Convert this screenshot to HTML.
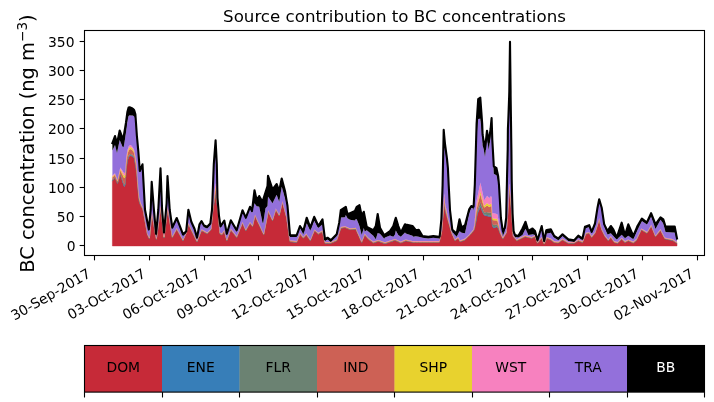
<!DOCTYPE html>
<html><head><meta charset="utf-8"><title>Source contribution to BC concentrations</title>
<style>
html,body{margin:0;padding:0;background:#fff;}
body{width:714px;height:402px;overflow:hidden;}
svg{display:block;}
text{font-family:"DejaVu Sans","Liberation Sans",sans-serif;}
</style></head><body>
<svg width="714" height="402" viewBox="0 0 714 402">
<rect width="714" height="402" fill="#fff"/>
<text x="394.50" y="21.9" text-anchor="middle" font-size="16.67">Source contribution to BC concentrations</text>
<text transform="translate(34,143.6) rotate(-90)" text-anchor="middle" font-size="19.44">BC concentration (ng m<tspan font-size="13.6" dy="-7.4">−3</tspan><tspan dy="7.4">)</tspan></text>
<g>
<path d="M112.4,181.1 L115.0,177.5 L117.0,182.5 L117.5,183.7 L119.7,176.9 L120.3,175.0 L122.0,180.1 L122.3,181.0 L123.6,184.9 L124.2,186.7 L124.4,186.4 L125.2,185.0 L125.8,176.3 L126.0,173.4 L126.3,169.0 L127.4,161.5 L127.5,160.8 L128.3,158.5 L128.6,157.6 L129.0,156.5 L129.6,156.3 L130.8,155.8 L132.5,156.5 L132.6,156.5 L134.1,158.2 L134.2,158.3 L134.5,160.0 L135.4,164.9 L135.6,166.0 L136.0,168.7 L136.7,173.3 L136.9,175.9 L137.5,183.6 L138.0,190.0 L138.3,192.9 L139.0,199.8 L139.2,201.7 L139.8,203.3 L140.8,206.0 L142.5,208.9 L143.0,209.7 L145.0,220.9 L146.0,226.6 L147.5,235.0 L148.0,236.0 L148.8,237.7 L149.4,238.9 L150.0,232.8 L150.7,225.7 L151.7,215.5 L151.9,213.5 L153.9,225.1 L156.1,237.8 L156.4,239.5 L158.3,225.1 L160.5,208.5 L160.7,207.0 L162.1,220.2 L164.0,238.0 L166.6,216.9 L167.5,209.6 L167.7,208.0 L169.0,216.4 L169.7,220.9 L171.0,229.2 L172.3,237.6 L176.7,229.4 L179.9,235.2 L183.0,240.8 L186.2,233.0 L188.4,224.3 L191.3,230.3 L194.5,236.9 L197.0,242.0 L199.5,235.7 L201.5,230.6 L204.0,232.0 L207.2,233.8 L210.3,230.7 L211.0,230.0 L212.0,219.3 L212.5,214.0 L212.9,209.7 L213.8,204.6 L215.5,195.0 L215.6,195.6 L216.8,202.6 L217.5,206.8 L218.0,209.7 L219.0,222.4 L219.5,228.7 L219.9,233.8 L220.0,233.9 L220.5,234.2 L221.8,235.0 L224.3,231.3 L226.8,240.8 L230.8,230.0 L236.7,237.5 L242.5,223.3 L245.8,230.8 L250.0,223.3 L252.0,226.0 L252.5,226.7 L254.5,218.0 L255.0,215.8 L256.7,219.7 L258.3,223.3 L259.2,225.1 L260.0,226.7 L261.0,228.9 L262.5,232.3 L263.3,234.1 L263.7,235.0 L265.5,225.9 L267.5,215.8 L268.0,213.2 L268.3,211.7 L272.5,220.8 L275.8,210.0 L276.2,210.7 L276.7,211.5 L279.2,215.8 L281.7,205.7 L282.0,204.5 L282.5,202.5 L285.0,211.9 L286.7,218.3 L287.5,224.0 L288.0,227.5 L290.0,241.7 L296.7,242.5 L300.0,234.2 L303.3,238.3 L306.3,235.0 L306.7,235.6 L310.3,240.8 L314.2,231.5 L314.5,230.8 L318.3,234.2 L322.5,231.7 L325.0,243.3 L327.5,243.3 L330.8,243.3 L336.7,240.8 L339.0,233.8 L339.2,233.2 L340.8,228.3 L345.0,227.5 L345.8,227.9 L347.5,228.6 L350.0,229.7 L355.0,229.3 L355.8,229.2 L356.7,231.3 L358.3,235.0 L359.5,237.6 L361.7,242.5 L363.8,237.2 L364.7,235.0 L366.7,237.3 L368.3,239.2 L373.3,243.0 L375.8,242.2 L377.7,241.5 L378.3,241.3 L380.0,241.9 L384.2,243.4 L385.0,243.7 L390.0,242.0 L393.3,240.9 L395.0,240.3 L395.8,240.7 L398.3,241.8 L400.8,243.0 L405.0,241.2 L405.8,240.8 L412.5,242.3 L413.3,242.5 L415.8,242.5 L418.8,242.5 L422.5,242.5 L428.3,242.5 L433.3,242.5 L439.0,242.5 L439.2,242.5 L439.6,240.8 L440.0,239.0 L441.0,234.7 L441.4,233.0 L441.7,231.7 L442.6,220.9 L443.7,207.7 L444.2,201.7 L444.8,207.4 L445.0,210.0 L447.0,217.1 L447.9,220.3 L448.0,220.6 L448.3,221.7 L448.7,223.1 L450.0,227.5 L451.5,232.6 L451.7,233.3 L452.3,234.7 L453.3,236.9 L454.0,238.5 L455.0,240.8 L456.7,239.5 L458.3,238.3 L459.5,240.7 L460.0,241.7 L461.7,241.1 L465.0,240.0 L469.2,235.8 L470.0,235.0 L471.3,233.5 L472.0,232.6 L473.0,231.4 L473.5,230.8 L473.6,230.7 L474.2,230.0 L474.4,229.1 L474.8,227.3 L475.3,225.1 L475.8,222.9 L476.0,222.0 L476.6,218.6 L477.4,214.0 L478.2,212.1 L480.0,207.9 L480.3,207.2 L480.4,207.0 L482.2,211.3 L482.6,212.3 L483.3,214.0 L483.5,214.2 L484.2,215.1 L484.5,215.5 L485.0,215.6 L487.0,216.1 L487.1,216.1 L488.0,216.3 L488.3,216.3 L488.7,216.4 L489.2,216.5 L490.6,216.7 L491.0,216.7 L491.6,216.8 L491.7,218.1 L492.3,226.0 L493.3,227.7 L493.5,228.0 L493.8,227.9 L495.0,227.6 L496.5,227.1 L497.0,227.0 L497.5,227.7 L498.2,228.6 L498.5,229.0 L498.6,229.3 L498.8,229.9 L499.0,230.4 L500.0,233.3 L500.9,235.1 L501.0,235.3 L502.8,239.0 L503.3,238.2 L504.8,235.6 L505.0,235.3 L506.2,233.3 L506.7,227.1 L506.9,225.3 L507.0,223.4 L507.6,216.0 L507.7,214.5 L507.9,210.6 L508.3,205.3 L508.5,202.2 L509.2,190.8 L509.3,190.0 L509.5,191.5 L510.0,195.4 L510.6,200.0 L510.6,200.6 L511.1,206.2 L511.2,207.4 L511.4,209.2 L511.7,213.5 L511.8,214.2 L511.9,216.0 L512.6,226.4 L513.0,232.3 L513.3,236.7 L513.6,237.1 L515.0,238.8 L516.0,240.0 L516.7,240.8 L518.3,240.0 L522.5,237.9 L525.0,236.7 L525.5,236.8 L528.3,237.5 L531.7,238.3 L532.5,237.9 L535.0,236.7 L537.5,243.3 L541.7,238.3 L544.2,244.2 L544.5,243.5 L546.3,239.2 L546.7,238.3 L550.8,240.0 L554.2,242.5 L558.0,243.0 L558.3,243.0 L562.5,240.0 L568.3,243.3 L574.2,243.3 L578.3,240.8 L582.5,242.5 L585.0,236.2 L585.8,234.2 L589.2,233.3 L591.7,237.5 L595.0,233.3 L596.0,230.1 L597.5,225.4 L599.2,220.0 L601.7,230.0 L602.0,230.6 L604.2,235.1 L605.0,236.7 L607.5,239.8 L608.3,240.8 L610.8,237.5 L613.3,241.2 L614.2,242.5 L616.7,243.1 L617.5,243.3 L621.7,239.2 L625.0,242.5 L628.3,240.8 L633.3,243.0 L636.4,240.4 L637.5,238.0 L641.3,229.8 L641.9,230.2 L646.9,233.2 L647.0,233.3 L651.1,226.5 L651.3,226.2 L655.5,236.8 L660.5,230.5 L663.3,236.0 L664.8,239.0 L665.5,239.1 L672.6,240.4 L674.7,241.8 L676.8,243.2 L677.0,243.2 L677.0,245.9 L676.8,245.9 L674.7,245.9 L672.6,245.9 L665.5,245.9 L664.8,245.9 L663.3,245.9 L660.5,245.9 L655.5,245.9 L651.3,245.9 L651.1,245.9 L647.0,245.9 L646.9,245.9 L641.9,245.9 L641.3,245.9 L637.5,245.9 L636.4,245.9 L633.3,245.9 L628.3,245.9 L625.0,245.9 L621.7,245.9 L617.5,245.9 L616.7,245.9 L614.2,245.9 L613.3,245.9 L610.8,245.9 L608.3,245.9 L607.5,245.9 L605.0,245.9 L604.2,245.9 L602.0,245.9 L601.7,245.9 L599.2,245.9 L597.5,245.9 L596.0,245.9 L595.0,245.9 L591.7,245.9 L589.2,245.9 L585.8,245.9 L585.0,245.9 L582.5,245.9 L578.3,245.9 L574.2,245.9 L568.3,245.9 L562.5,245.9 L558.3,245.9 L558.0,245.9 L554.2,245.9 L550.8,245.9 L546.7,245.9 L546.3,245.9 L544.5,245.9 L544.2,245.9 L541.7,245.9 L537.5,245.9 L535.0,245.9 L532.5,245.9 L531.7,245.9 L528.3,245.9 L525.5,245.9 L525.0,245.9 L522.5,245.9 L518.3,245.9 L516.7,245.9 L516.0,245.9 L515.0,245.9 L513.6,245.9 L513.3,245.9 L513.0,245.9 L512.6,245.9 L511.9,245.9 L511.8,245.9 L511.7,245.9 L511.4,245.9 L511.2,245.9 L511.1,245.9 L510.6,245.9 L510.6,245.9 L510.0,245.9 L509.5,245.9 L509.3,245.9 L509.2,245.9 L508.5,245.9 L508.3,245.9 L507.9,245.9 L507.7,245.9 L507.6,245.9 L507.0,245.9 L506.9,245.9 L506.7,245.9 L506.2,245.9 L505.0,245.9 L504.8,245.9 L503.3,245.9 L502.8,245.9 L501.0,245.9 L500.9,245.9 L500.0,245.9 L499.0,245.9 L498.8,245.9 L498.6,245.9 L498.5,245.9 L498.2,245.9 L497.5,245.9 L497.0,245.9 L496.5,245.9 L495.0,245.9 L493.8,245.9 L493.5,245.9 L493.3,245.9 L492.3,245.9 L491.7,245.9 L491.6,245.9 L491.0,245.9 L490.6,245.9 L489.2,245.9 L488.7,245.9 L488.3,245.9 L488.0,245.9 L487.1,245.9 L487.0,245.9 L485.0,245.9 L484.5,245.9 L484.2,245.9 L483.5,245.9 L483.3,245.9 L482.6,245.9 L482.2,245.9 L480.4,245.9 L480.3,245.9 L480.0,245.9 L478.2,245.9 L477.4,245.9 L476.6,245.9 L476.0,245.9 L475.8,245.9 L475.3,245.9 L474.8,245.9 L474.4,245.9 L474.2,245.9 L473.6,245.9 L473.5,245.9 L473.0,245.9 L472.0,245.9 L471.3,245.9 L470.0,245.9 L469.2,245.9 L465.0,245.9 L461.7,245.9 L460.0,245.9 L459.5,245.9 L458.3,245.9 L456.7,245.9 L455.0,245.9 L454.0,245.9 L453.3,245.9 L452.3,245.9 L451.7,245.9 L451.5,245.9 L450.0,245.9 L448.7,245.9 L448.3,245.9 L448.0,245.9 L447.9,245.9 L447.0,245.9 L445.0,245.9 L444.8,245.9 L444.2,245.9 L443.7,245.9 L442.6,245.9 L441.7,245.9 L441.4,245.9 L441.0,245.9 L440.0,245.9 L439.6,245.9 L439.2,245.9 L439.0,245.9 L433.3,245.9 L428.3,245.9 L422.5,245.9 L418.8,245.9 L415.8,245.9 L413.3,245.9 L412.5,245.9 L405.8,245.9 L405.0,245.9 L400.8,245.9 L398.3,245.9 L395.8,245.9 L395.0,245.9 L393.3,245.9 L390.0,245.9 L385.0,245.9 L384.2,245.9 L380.0,245.9 L378.3,245.9 L377.7,245.9 L375.8,245.9 L373.3,245.9 L368.3,245.9 L366.7,245.9 L364.7,245.9 L363.8,245.9 L361.7,245.9 L359.5,245.9 L358.3,245.9 L356.7,245.9 L355.8,245.9 L355.0,245.9 L350.0,245.9 L347.5,245.9 L345.8,245.9 L345.0,245.9 L340.8,245.9 L339.2,245.9 L339.0,245.9 L336.7,245.9 L330.8,245.9 L327.5,245.9 L325.0,245.9 L322.5,245.9 L318.3,245.9 L314.5,245.9 L314.2,245.9 L310.3,245.9 L306.7,245.9 L306.3,245.9 L303.3,245.9 L300.0,245.9 L296.7,245.9 L290.0,245.9 L288.0,245.9 L287.5,245.9 L286.7,245.9 L285.0,245.9 L282.5,245.9 L282.0,245.9 L281.7,245.9 L279.2,245.9 L276.7,245.9 L276.2,245.9 L275.8,245.9 L272.5,245.9 L268.3,245.9 L268.0,245.9 L267.5,245.9 L265.5,245.9 L263.7,245.9 L263.3,245.9 L262.5,245.9 L261.0,245.9 L260.0,245.9 L259.2,245.9 L258.3,245.9 L256.7,245.9 L255.0,245.9 L254.5,245.9 L252.5,245.9 L252.0,245.9 L250.0,245.9 L245.8,245.9 L242.5,245.9 L236.7,245.9 L230.8,245.9 L226.8,245.9 L224.3,245.9 L221.8,245.9 L220.5,245.9 L220.0,245.9 L219.9,245.9 L219.5,245.9 L219.0,245.9 L218.0,245.9 L217.5,245.9 L216.8,245.9 L215.6,245.9 L215.5,245.9 L213.8,245.9 L212.9,245.9 L212.5,245.9 L212.0,245.9 L211.0,245.9 L210.3,245.9 L207.2,245.9 L204.0,245.9 L201.5,245.9 L199.5,245.9 L197.0,245.9 L194.5,245.9 L191.3,245.9 L188.4,245.9 L186.2,245.9 L183.0,245.9 L179.9,245.9 L176.7,245.9 L172.3,245.9 L171.0,245.9 L169.7,245.9 L169.0,245.9 L167.7,245.9 L167.5,245.9 L166.6,245.9 L164.0,245.9 L162.1,245.9 L160.7,245.9 L160.5,245.9 L158.3,245.9 L156.4,245.9 L156.1,245.9 L153.9,245.9 L151.9,245.9 L151.7,245.9 L150.7,245.9 L150.0,245.9 L149.4,245.9 L148.8,245.9 L148.0,245.9 L147.5,245.9 L146.0,245.9 L145.0,245.9 L143.0,245.9 L142.5,245.9 L140.8,245.9 L139.8,245.9 L139.2,245.9 L139.0,245.9 L138.3,245.9 L138.0,245.9 L137.5,245.9 L136.9,245.9 L136.7,245.9 L136.0,245.9 L135.6,245.9 L135.4,245.9 L134.5,245.9 L134.2,245.9 L134.1,245.9 L132.6,245.9 L132.5,245.9 L130.8,245.9 L129.6,245.9 L129.0,245.9 L128.6,245.9 L128.3,245.9 L127.5,245.9 L127.4,245.9 L126.3,245.9 L126.0,245.9 L125.8,245.9 L125.2,245.9 L124.4,245.9 L124.2,245.9 L123.6,245.9 L122.3,245.9 L122.0,245.9 L120.3,245.9 L119.7,245.9 L117.5,245.9 L117.0,245.9 L115.0,245.9 L112.4,245.9Z" fill="#c62a38" stroke="#c62a38" stroke-width="0.5" stroke-linejoin="round"/>
<path d="M112.4,180.7 L115.0,177.2 L117.0,182.2 L117.5,183.4 L119.7,176.4 L120.3,174.5 L122.0,179.4 L122.3,180.3 L123.6,184.0 L124.2,185.8 L124.4,185.4 L125.2,184.1 L125.8,175.4 L126.0,172.5 L126.3,168.2 L127.4,160.7 L127.5,160.0 L128.3,157.8 L128.6,156.9 L129.0,155.7 L129.6,155.5 L130.8,155.0 L132.5,155.8 L132.6,155.8 L134.1,157.6 L134.2,157.7 L134.5,159.4 L135.4,164.3 L135.6,165.4 L136.0,168.1 L136.7,172.7 L136.9,175.3 L137.5,183.1 L138.0,189.5 L138.3,192.5 L139.0,199.4 L139.2,201.3 L139.8,203.0 L140.8,205.8 L142.5,208.7 L143.0,209.6 L145.0,220.8 L146.0,226.5 L147.5,234.9 L148.0,235.9 L148.8,237.6 L149.4,238.8 L150.0,232.7 L150.7,225.6 L151.7,215.4 L151.9,213.4 L153.9,225.0 L156.1,237.7 L156.4,239.4 L158.3,225.0 L160.5,208.4 L160.7,206.9 L162.1,220.1 L164.0,237.9 L166.6,216.8 L167.5,209.5 L167.7,207.9 L169.0,216.3 L169.7,220.8 L171.0,229.1 L172.3,237.5 L176.7,229.3 L179.9,235.1 L183.0,240.7 L186.2,233.0 L188.4,224.2 L191.3,230.2 L194.5,236.8 L197.0,241.9 L199.5,235.6 L201.5,230.5 L204.0,231.9 L207.2,233.7 L210.3,230.6 L211.0,229.9 L212.0,219.2 L212.5,213.9 L212.9,209.6 L213.8,204.3 L215.5,194.2 L215.6,194.8 L216.8,202.2 L217.5,206.5 L218.0,209.6 L219.0,222.3 L219.5,228.6 L219.9,233.7 L220.0,233.8 L220.5,234.1 L221.8,234.9 L224.3,231.2 L226.8,240.7 L230.8,229.9 L236.7,237.4 L242.5,223.2 L245.8,230.7 L250.0,223.2 L252.0,225.9 L252.5,226.6 L254.5,217.9 L255.0,215.7 L256.7,219.6 L258.3,223.2 L259.2,225.0 L260.0,226.6 L261.0,228.8 L262.5,232.2 L263.3,234.0 L263.7,234.9 L265.5,225.8 L267.5,215.7 L268.0,213.1 L268.3,211.6 L272.5,220.7 L275.8,209.9 L276.2,210.6 L276.7,211.4 L279.2,215.7 L281.7,205.6 L282.0,204.4 L282.5,202.4 L285.0,211.8 L286.7,218.2 L287.5,223.9 L288.0,227.4 L290.0,241.6 L296.7,242.4 L300.0,234.1 L303.3,238.2 L306.3,234.9 L306.7,235.5 L310.3,240.7 L314.2,231.4 L314.5,230.7 L318.3,234.1 L322.5,231.6 L325.0,243.2 L327.5,243.2 L330.8,243.2 L336.7,240.7 L339.0,233.7 L339.2,233.1 L340.8,228.2 L345.0,227.4 L345.8,227.8 L347.5,228.5 L350.0,229.6 L355.0,229.2 L355.8,229.1 L356.7,231.2 L358.3,234.9 L359.5,237.5 L361.7,242.4 L363.8,237.2 L364.7,234.9 L366.7,237.2 L368.3,239.1 L373.3,242.9 L375.8,242.1 L377.7,241.4 L378.3,241.2 L380.0,241.8 L384.2,243.3 L385.0,243.6 L390.0,241.9 L393.3,240.8 L395.0,240.2 L395.8,240.6 L398.3,241.7 L400.8,242.9 L405.0,241.1 L405.8,240.7 L412.5,242.2 L413.3,242.4 L415.8,242.4 L418.8,242.4 L422.5,242.4 L428.3,242.4 L433.3,242.4 L439.0,242.4 L439.2,242.4 L439.6,240.7 L440.0,239.0 L441.0,234.6 L441.4,232.9 L441.7,231.6 L442.6,220.7 L443.7,207.3 L444.2,201.3 L444.8,207.0 L445.0,209.6 L447.0,216.9 L447.9,220.1 L448.0,220.5 L448.3,221.5 L448.7,222.9 L450.0,227.4 L451.5,232.5 L451.7,233.2 L452.3,234.6 L453.3,236.9 L454.0,238.5 L455.0,240.7 L456.7,239.4 L458.3,238.2 L459.5,240.6 L460.0,241.6 L461.7,241.1 L465.0,239.9 L469.2,235.7 L470.0,234.9 L471.3,233.4 L472.0,232.5 L473.0,231.3 L473.5,230.7 L473.6,230.6 L474.2,229.8 L474.4,228.9 L474.8,226.9 L475.3,224.6 L475.8,222.2 L476.0,221.2 L476.6,217.7 L477.4,213.2 L478.2,211.2 L480.0,206.8 L480.3,206.0 L480.4,205.8 L482.2,210.3 L482.6,211.3 L483.3,213.1 L483.5,213.4 L484.2,214.4 L484.5,214.7 L485.0,214.8 L487.0,215.1 L487.1,215.1 L488.0,215.3 L488.3,215.4 L488.7,215.5 L489.2,215.6 L490.6,215.7 L491.0,215.7 L491.6,215.8 L491.7,217.1 L492.3,225.3 L493.3,226.9 L493.5,227.3 L493.8,227.2 L495.0,226.9 L496.5,226.5 L497.0,226.4 L497.5,227.0 L498.2,228.1 L498.5,228.6 L498.6,228.9 L498.8,229.5 L499.0,230.1 L500.0,233.1 L500.9,235.0 L501.0,235.2 L502.8,238.9 L503.3,238.1 L504.8,235.6 L505.0,235.2 L506.2,233.2 L506.7,227.0 L506.9,225.2 L507.0,223.3 L507.6,215.9 L507.7,214.3 L507.9,210.5 L508.3,205.1 L508.5,202.1 L509.2,190.5 L509.3,189.7 L509.5,191.2 L510.0,195.1 L510.6,199.8 L510.6,200.4 L511.1,205.9 L511.2,207.2 L511.4,209.0 L511.7,213.4 L511.8,214.0 L511.9,215.9 L512.6,226.2 L513.0,232.2 L513.3,236.6 L513.6,237.0 L515.0,238.7 L516.0,239.9 L516.7,240.7 L518.3,239.9 L522.5,237.9 L525.0,236.6 L525.5,236.7 L528.3,237.4 L531.7,238.2 L532.5,237.8 L535.0,236.6 L537.5,243.2 L541.7,238.2 L544.2,244.1 L544.5,243.4 L546.3,239.2 L546.7,238.2 L550.8,239.9 L554.2,242.4 L558.0,242.9 L558.3,242.9 L562.5,239.9 L568.3,243.2 L574.2,243.2 L578.3,240.7 L582.5,242.4 L585.0,236.1 L585.8,234.1 L589.2,233.2 L591.7,237.4 L595.0,233.2 L596.0,230.1 L597.5,225.3 L599.2,219.9 L601.7,229.9 L602.0,230.5 L604.2,235.0 L605.0,236.6 L607.5,239.7 L608.3,240.7 L610.8,237.4 L613.3,241.1 L614.2,242.4 L616.7,243.0 L617.5,243.2 L621.7,239.1 L625.0,242.4 L628.3,240.7 L633.3,242.9 L636.4,240.3 L637.5,238.0 L641.3,229.7 L641.9,230.1 L646.9,233.2 L647.0,233.2 L651.1,226.5 L651.3,226.1 L655.5,236.7 L660.5,230.4 L663.3,236.0 L664.8,238.9 L665.5,239.1 L672.6,240.3 L674.7,241.7 L676.8,243.1 L677.0,243.1 L677.0,243.2 L676.8,243.2 L674.7,241.8 L672.6,240.4 L665.5,239.1 L664.8,239.0 L663.3,236.0 L660.5,230.5 L655.5,236.8 L651.3,226.2 L651.1,226.5 L647.0,233.3 L646.9,233.2 L641.9,230.2 L641.3,229.8 L637.5,238.0 L636.4,240.4 L633.3,243.0 L628.3,240.8 L625.0,242.5 L621.7,239.2 L617.5,243.3 L616.7,243.1 L614.2,242.5 L613.3,241.2 L610.8,237.5 L608.3,240.8 L607.5,239.8 L605.0,236.7 L604.2,235.1 L602.0,230.6 L601.7,230.0 L599.2,220.0 L597.5,225.4 L596.0,230.1 L595.0,233.3 L591.7,237.5 L589.2,233.3 L585.8,234.2 L585.0,236.2 L582.5,242.5 L578.3,240.8 L574.2,243.3 L568.3,243.3 L562.5,240.0 L558.3,243.0 L558.0,243.0 L554.2,242.5 L550.8,240.0 L546.7,238.3 L546.3,239.2 L544.5,243.5 L544.2,244.2 L541.7,238.3 L537.5,243.3 L535.0,236.7 L532.5,237.9 L531.7,238.3 L528.3,237.5 L525.5,236.8 L525.0,236.7 L522.5,237.9 L518.3,240.0 L516.7,240.8 L516.0,240.0 L515.0,238.8 L513.6,237.1 L513.3,236.7 L513.0,232.3 L512.6,226.4 L511.9,216.0 L511.8,214.2 L511.7,213.5 L511.4,209.2 L511.2,207.4 L511.1,206.2 L510.6,200.6 L510.6,200.0 L510.0,195.4 L509.5,191.5 L509.3,190.0 L509.2,190.8 L508.5,202.2 L508.3,205.3 L507.9,210.6 L507.7,214.5 L507.6,216.0 L507.0,223.4 L506.9,225.3 L506.7,227.1 L506.2,233.3 L505.0,235.3 L504.8,235.6 L503.3,238.2 L502.8,239.0 L501.0,235.3 L500.9,235.1 L500.0,233.3 L499.0,230.4 L498.8,229.9 L498.6,229.3 L498.5,229.0 L498.2,228.6 L497.5,227.7 L497.0,227.0 L496.5,227.1 L495.0,227.6 L493.8,227.9 L493.5,228.0 L493.3,227.7 L492.3,226.0 L491.7,218.1 L491.6,216.8 L491.0,216.7 L490.6,216.7 L489.2,216.5 L488.7,216.4 L488.3,216.3 L488.0,216.3 L487.1,216.1 L487.0,216.1 L485.0,215.6 L484.5,215.5 L484.2,215.1 L483.5,214.2 L483.3,214.0 L482.6,212.3 L482.2,211.3 L480.4,207.0 L480.3,207.2 L480.0,207.9 L478.2,212.1 L477.4,214.0 L476.6,218.6 L476.0,222.0 L475.8,222.9 L475.3,225.1 L474.8,227.3 L474.4,229.1 L474.2,230.0 L473.6,230.7 L473.5,230.8 L473.0,231.4 L472.0,232.6 L471.3,233.5 L470.0,235.0 L469.2,235.8 L465.0,240.0 L461.7,241.1 L460.0,241.7 L459.5,240.7 L458.3,238.3 L456.7,239.5 L455.0,240.8 L454.0,238.5 L453.3,236.9 L452.3,234.7 L451.7,233.3 L451.5,232.6 L450.0,227.5 L448.7,223.1 L448.3,221.7 L448.0,220.6 L447.9,220.3 L447.0,217.1 L445.0,210.0 L444.8,207.4 L444.2,201.7 L443.7,207.7 L442.6,220.9 L441.7,231.7 L441.4,233.0 L441.0,234.7 L440.0,239.0 L439.6,240.8 L439.2,242.5 L439.0,242.5 L433.3,242.5 L428.3,242.5 L422.5,242.5 L418.8,242.5 L415.8,242.5 L413.3,242.5 L412.5,242.3 L405.8,240.8 L405.0,241.2 L400.8,243.0 L398.3,241.8 L395.8,240.7 L395.0,240.3 L393.3,240.9 L390.0,242.0 L385.0,243.7 L384.2,243.4 L380.0,241.9 L378.3,241.3 L377.7,241.5 L375.8,242.2 L373.3,243.0 L368.3,239.2 L366.7,237.3 L364.7,235.0 L363.8,237.2 L361.7,242.5 L359.5,237.6 L358.3,235.0 L356.7,231.3 L355.8,229.2 L355.0,229.3 L350.0,229.7 L347.5,228.6 L345.8,227.9 L345.0,227.5 L340.8,228.3 L339.2,233.2 L339.0,233.8 L336.7,240.8 L330.8,243.3 L327.5,243.3 L325.0,243.3 L322.5,231.7 L318.3,234.2 L314.5,230.8 L314.2,231.5 L310.3,240.8 L306.7,235.6 L306.3,235.0 L303.3,238.3 L300.0,234.2 L296.7,242.5 L290.0,241.7 L288.0,227.5 L287.5,224.0 L286.7,218.3 L285.0,211.9 L282.5,202.5 L282.0,204.5 L281.7,205.7 L279.2,215.8 L276.7,211.5 L276.2,210.7 L275.8,210.0 L272.5,220.8 L268.3,211.7 L268.0,213.2 L267.5,215.8 L265.5,225.9 L263.7,235.0 L263.3,234.1 L262.5,232.3 L261.0,228.9 L260.0,226.7 L259.2,225.1 L258.3,223.3 L256.7,219.7 L255.0,215.8 L254.5,218.0 L252.5,226.7 L252.0,226.0 L250.0,223.3 L245.8,230.8 L242.5,223.3 L236.7,237.5 L230.8,230.0 L226.8,240.8 L224.3,231.3 L221.8,235.0 L220.5,234.2 L220.0,233.9 L219.9,233.8 L219.5,228.7 L219.0,222.4 L218.0,209.7 L217.5,206.8 L216.8,202.6 L215.6,195.6 L215.5,195.0 L213.8,204.6 L212.9,209.7 L212.5,214.0 L212.0,219.3 L211.0,230.0 L210.3,230.7 L207.2,233.8 L204.0,232.0 L201.5,230.6 L199.5,235.7 L197.0,242.0 L194.5,236.9 L191.3,230.3 L188.4,224.3 L186.2,233.0 L183.0,240.8 L179.9,235.2 L176.7,229.4 L172.3,237.6 L171.0,229.2 L169.7,220.9 L169.0,216.4 L167.7,208.0 L167.5,209.6 L166.6,216.9 L164.0,238.0 L162.1,220.2 L160.7,207.0 L160.5,208.5 L158.3,225.1 L156.4,239.5 L156.1,237.8 L153.9,225.1 L151.9,213.5 L151.7,215.5 L150.7,225.7 L150.0,232.8 L149.4,238.9 L148.8,237.7 L148.0,236.0 L147.5,235.0 L146.0,226.6 L145.0,220.9 L143.0,209.7 L142.5,208.9 L140.8,206.0 L139.8,203.3 L139.2,201.7 L139.0,199.8 L138.3,192.9 L138.0,190.0 L137.5,183.6 L136.9,175.9 L136.7,173.3 L136.0,168.7 L135.6,166.0 L135.4,164.9 L134.5,160.0 L134.2,158.3 L134.1,158.2 L132.6,156.5 L132.5,156.5 L130.8,155.8 L129.6,156.3 L129.0,156.5 L128.6,157.6 L128.3,158.5 L127.5,160.8 L127.4,161.5 L126.3,169.0 L126.0,173.4 L125.8,176.3 L125.2,185.0 L124.4,186.4 L124.2,186.7 L123.6,184.9 L122.3,181.0 L122.0,180.1 L120.3,175.0 L119.7,176.9 L117.5,183.7 L117.0,182.5 L115.0,177.5 L112.4,181.1Z" fill="#377eb8" stroke="#377eb8" stroke-width="0.3"/><path d="M112.4,180.2 L115.0,176.8 L117.0,181.8 L117.5,183.1 L119.7,175.7 L120.3,173.7 L122.0,178.4 L122.3,179.2 L123.6,182.8 L124.2,184.4 L124.4,184.1 L125.2,182.9 L125.8,174.2 L126.0,171.3 L126.3,167.0 L127.4,159.6 L127.5,159.0 L128.3,156.7 L128.6,155.8 L129.0,154.7 L129.6,154.4 L130.8,154.0 L132.5,154.8 L132.6,154.9 L134.1,156.8 L134.2,156.9 L134.5,158.5 L135.4,163.5 L135.6,164.6 L136.0,167.2 L136.7,171.9 L136.9,174.5 L137.5,182.3 L138.0,188.9 L138.3,191.9 L139.0,198.9 L139.2,200.8 L139.8,202.6 L140.8,205.5 L142.5,208.5 L143.0,209.4 L145.0,220.7 L146.0,226.3 L147.5,234.8 L148.0,235.8 L148.8,237.4 L149.4,238.7 L150.0,232.6 L150.7,225.5 L151.7,215.3 L151.9,213.3 L153.9,224.8 L156.1,237.6 L156.4,239.3 L158.3,224.9 L160.5,208.3 L160.7,206.8 L162.1,219.9 L164.0,237.8 L166.6,216.7 L167.5,209.4 L167.7,207.8 L169.0,216.1 L169.7,220.6 L171.0,229.0 L172.3,237.4 L176.7,229.2 L179.9,235.0 L183.0,240.6 L186.2,233.0 L188.4,224.1 L191.3,230.0 L194.5,236.6 L197.0,241.8 L199.5,235.4 L201.5,230.4 L204.0,231.8 L207.2,233.6 L210.3,230.5 L211.0,229.8 L212.0,219.1 L212.5,213.7 L212.9,209.4 L213.8,203.7 L215.5,193.0 L215.6,193.6 L216.8,201.5 L217.5,206.1 L218.0,209.4 L219.0,222.1 L219.5,228.5 L219.9,233.6 L220.0,233.6 L220.5,233.9 L221.8,234.8 L224.3,231.1 L226.8,240.6 L230.8,229.8 L236.7,237.3 L242.5,223.1 L245.8,230.6 L250.0,223.1 L252.0,225.8 L252.5,226.5 L254.5,217.7 L255.0,215.6 L256.7,219.4 L258.3,223.1 L259.2,224.9 L260.0,226.5 L261.0,228.7 L262.5,232.1 L263.3,233.9 L263.7,234.8 L265.5,225.6 L267.5,215.5 L268.0,213.0 L268.3,211.5 L272.5,220.6 L275.8,209.8 L276.2,210.4 L276.7,211.3 L279.2,215.6 L281.7,205.5 L282.0,204.3 L282.5,202.3 L285.0,211.7 L286.7,218.1 L287.5,223.7 L288.0,227.3 L290.0,241.5 L296.7,242.3 L300.0,234.0 L303.3,238.1 L306.3,234.8 L306.7,235.3 L310.3,240.6 L314.2,231.3 L314.5,230.6 L318.3,234.0 L322.5,231.5 L325.0,243.1 L327.5,243.1 L330.8,243.1 L336.7,240.6 L339.0,233.5 L339.2,232.9 L340.8,228.1 L345.0,227.3 L345.8,227.6 L347.5,228.4 L350.0,229.5 L355.0,229.0 L355.8,229.0 L356.7,231.0 L358.3,234.8 L359.5,237.4 L361.7,242.3 L363.8,237.0 L364.7,234.8 L366.7,237.1 L368.3,239.0 L373.3,242.8 L375.8,241.9 L377.7,241.3 L378.3,241.1 L380.0,241.7 L384.2,243.2 L385.0,243.5 L390.0,241.8 L393.3,240.6 L395.0,240.1 L395.8,240.4 L398.3,241.6 L400.8,242.8 L405.0,240.9 L405.8,240.5 L412.5,242.0 L413.3,242.2 L415.8,242.2 L418.8,242.2 L422.5,242.2 L428.3,242.2 L433.3,242.2 L439.0,242.2 L439.2,242.2 L439.6,240.5 L440.0,238.8 L441.0,234.4 L441.4,232.6 L441.7,231.3 L442.6,220.0 L443.7,206.3 L444.2,200.0 L444.8,205.9 L445.0,208.5 L447.0,216.1 L447.9,219.6 L448.0,220.0 L448.3,221.1 L448.7,222.5 L450.0,227.1 L451.5,232.3 L451.7,233.0 L452.3,234.4 L453.3,236.7 L454.0,238.2 L455.0,240.5 L456.7,239.2 L458.3,238.0 L459.5,240.4 L460.0,241.4 L461.7,240.8 L465.0,239.7 L469.2,235.5 L470.0,234.7 L471.3,233.2 L472.0,232.3 L473.0,231.1 L473.5,230.5 L473.6,230.3 L474.2,229.0 L474.4,228.1 L474.8,225.8 L475.3,222.9 L475.8,220.1 L476.0,219.0 L476.6,215.1 L477.4,210.6 L478.2,208.3 L480.0,203.2 L480.3,202.4 L480.4,202.1 L482.2,207.3 L482.6,208.4 L483.3,210.4 L483.5,210.8 L484.2,212.2 L484.5,212.4 L485.0,212.3 L487.0,212.0 L487.1,212.0 L488.0,212.4 L488.3,212.5 L488.7,212.6 L489.2,212.8 L490.6,212.6 L491.0,212.6 L491.6,212.9 L491.7,214.0 L492.3,223.4 L493.3,224.8 L493.5,225.0 L493.8,225.0 L495.0,224.8 L496.5,224.5 L497.0,224.5 L497.5,225.0 L498.2,226.6 L498.5,227.3 L498.6,227.6 L498.8,228.3 L499.0,229.0 L500.0,232.5 L500.9,234.6 L501.0,234.9 L502.8,238.6 L503.3,237.9 L504.8,235.3 L505.0,235.0 L506.2,233.0 L506.7,226.8 L506.9,224.9 L507.0,223.1 L507.6,215.5 L507.7,214.0 L507.9,210.1 L508.3,204.7 L508.5,201.5 L509.2,189.5 L509.3,188.7 L509.5,190.1 L510.0,194.2 L510.6,199.0 L510.6,199.6 L511.1,205.3 L511.2,206.6 L511.4,208.5 L511.7,212.9 L511.8,213.6 L511.9,215.4 L512.6,225.9 L513.0,231.9 L513.3,236.4 L513.6,236.8 L515.0,238.5 L516.0,239.7 L516.7,240.5 L518.3,239.7 L522.5,237.7 L525.0,236.4 L525.5,236.5 L528.3,237.2 L531.7,238.0 L532.5,237.6 L535.0,236.4 L537.5,243.0 L541.7,238.0 L544.2,243.9 L544.5,243.2 L546.3,239.0 L546.7,238.0 L550.8,239.7 L554.2,242.2 L558.0,242.7 L558.3,242.7 L562.5,239.7 L568.3,243.0 L574.2,243.0 L578.3,240.5 L582.5,242.2 L585.0,235.9 L585.8,233.9 L589.2,233.0 L591.7,237.2 L595.0,233.0 L596.0,229.9 L597.5,225.1 L599.2,219.6 L601.7,229.7 L602.0,230.3 L604.2,234.8 L605.0,236.4 L607.5,239.5 L608.3,240.5 L610.8,237.2 L613.3,240.9 L614.2,242.2 L616.7,242.8 L617.5,243.0 L621.7,238.9 L625.0,242.2 L628.3,240.5 L633.3,242.7 L636.4,240.1 L637.5,237.7 L641.3,229.5 L641.9,229.9 L646.9,233.0 L647.0,233.0 L651.1,226.3 L651.3,225.9 L655.5,236.5 L660.5,230.2 L663.3,235.8 L664.8,238.7 L665.5,238.8 L672.6,240.1 L674.7,241.5 L676.8,242.9 L677.0,242.9 L677.0,243.1 L676.8,243.1 L674.7,241.7 L672.6,240.3 L665.5,239.1 L664.8,238.9 L663.3,236.0 L660.5,230.4 L655.5,236.7 L651.3,226.1 L651.1,226.5 L647.0,233.2 L646.9,233.2 L641.9,230.1 L641.3,229.7 L637.5,238.0 L636.4,240.3 L633.3,242.9 L628.3,240.7 L625.0,242.4 L621.7,239.1 L617.5,243.2 L616.7,243.0 L614.2,242.4 L613.3,241.1 L610.8,237.4 L608.3,240.7 L607.5,239.7 L605.0,236.6 L604.2,235.0 L602.0,230.5 L601.7,229.9 L599.2,219.9 L597.5,225.3 L596.0,230.1 L595.0,233.2 L591.7,237.4 L589.2,233.2 L585.8,234.1 L585.0,236.1 L582.5,242.4 L578.3,240.7 L574.2,243.2 L568.3,243.2 L562.5,239.9 L558.3,242.9 L558.0,242.9 L554.2,242.4 L550.8,239.9 L546.7,238.2 L546.3,239.2 L544.5,243.4 L544.2,244.1 L541.7,238.2 L537.5,243.2 L535.0,236.6 L532.5,237.8 L531.7,238.2 L528.3,237.4 L525.5,236.7 L525.0,236.6 L522.5,237.9 L518.3,239.9 L516.7,240.7 L516.0,239.9 L515.0,238.7 L513.6,237.0 L513.3,236.6 L513.0,232.2 L512.6,226.2 L511.9,215.9 L511.8,214.0 L511.7,213.4 L511.4,209.0 L511.2,207.2 L511.1,205.9 L510.6,200.4 L510.6,199.8 L510.0,195.1 L509.5,191.2 L509.3,189.7 L509.2,190.5 L508.5,202.1 L508.3,205.1 L507.9,210.5 L507.7,214.3 L507.6,215.9 L507.0,223.3 L506.9,225.2 L506.7,227.0 L506.2,233.2 L505.0,235.2 L504.8,235.6 L503.3,238.1 L502.8,238.9 L501.0,235.2 L500.9,235.0 L500.0,233.1 L499.0,230.1 L498.8,229.5 L498.6,228.9 L498.5,228.6 L498.2,228.1 L497.5,227.0 L497.0,226.4 L496.5,226.5 L495.0,226.9 L493.8,227.2 L493.5,227.3 L493.3,226.9 L492.3,225.3 L491.7,217.1 L491.6,215.8 L491.0,215.7 L490.6,215.7 L489.2,215.6 L488.7,215.5 L488.3,215.4 L488.0,215.3 L487.1,215.1 L487.0,215.1 L485.0,214.8 L484.5,214.7 L484.2,214.4 L483.5,213.4 L483.3,213.1 L482.6,211.3 L482.2,210.3 L480.4,205.8 L480.3,206.0 L480.0,206.8 L478.2,211.2 L477.4,213.2 L476.6,217.7 L476.0,221.2 L475.8,222.2 L475.3,224.6 L474.8,226.9 L474.4,228.9 L474.2,229.8 L473.6,230.6 L473.5,230.7 L473.0,231.3 L472.0,232.5 L471.3,233.4 L470.0,234.9 L469.2,235.7 L465.0,239.9 L461.7,241.1 L460.0,241.6 L459.5,240.6 L458.3,238.2 L456.7,239.4 L455.0,240.7 L454.0,238.5 L453.3,236.9 L452.3,234.6 L451.7,233.2 L451.5,232.5 L450.0,227.4 L448.7,222.9 L448.3,221.5 L448.0,220.5 L447.9,220.1 L447.0,216.9 L445.0,209.6 L444.8,207.0 L444.2,201.3 L443.7,207.3 L442.6,220.7 L441.7,231.6 L441.4,232.9 L441.0,234.6 L440.0,239.0 L439.6,240.7 L439.2,242.4 L439.0,242.4 L433.3,242.4 L428.3,242.4 L422.5,242.4 L418.8,242.4 L415.8,242.4 L413.3,242.4 L412.5,242.2 L405.8,240.7 L405.0,241.1 L400.8,242.9 L398.3,241.7 L395.8,240.6 L395.0,240.2 L393.3,240.8 L390.0,241.9 L385.0,243.6 L384.2,243.3 L380.0,241.8 L378.3,241.2 L377.7,241.4 L375.8,242.1 L373.3,242.9 L368.3,239.1 L366.7,237.2 L364.7,234.9 L363.8,237.2 L361.7,242.4 L359.5,237.5 L358.3,234.9 L356.7,231.2 L355.8,229.1 L355.0,229.2 L350.0,229.6 L347.5,228.5 L345.8,227.8 L345.0,227.4 L340.8,228.2 L339.2,233.1 L339.0,233.7 L336.7,240.7 L330.8,243.2 L327.5,243.2 L325.0,243.2 L322.5,231.6 L318.3,234.1 L314.5,230.7 L314.2,231.4 L310.3,240.7 L306.7,235.5 L306.3,234.9 L303.3,238.2 L300.0,234.1 L296.7,242.4 L290.0,241.6 L288.0,227.4 L287.5,223.9 L286.7,218.2 L285.0,211.8 L282.5,202.4 L282.0,204.4 L281.7,205.6 L279.2,215.7 L276.7,211.4 L276.2,210.6 L275.8,209.9 L272.5,220.7 L268.3,211.6 L268.0,213.1 L267.5,215.7 L265.5,225.8 L263.7,234.9 L263.3,234.0 L262.5,232.2 L261.0,228.8 L260.0,226.6 L259.2,225.0 L258.3,223.2 L256.7,219.6 L255.0,215.7 L254.5,217.9 L252.5,226.6 L252.0,225.9 L250.0,223.2 L245.8,230.7 L242.5,223.2 L236.7,237.4 L230.8,229.9 L226.8,240.7 L224.3,231.2 L221.8,234.9 L220.5,234.1 L220.0,233.8 L219.9,233.7 L219.5,228.6 L219.0,222.3 L218.0,209.6 L217.5,206.5 L216.8,202.2 L215.6,194.8 L215.5,194.2 L213.8,204.3 L212.9,209.6 L212.5,213.9 L212.0,219.2 L211.0,229.9 L210.3,230.6 L207.2,233.7 L204.0,231.9 L201.5,230.5 L199.5,235.6 L197.0,241.9 L194.5,236.8 L191.3,230.2 L188.4,224.2 L186.2,233.0 L183.0,240.7 L179.9,235.1 L176.7,229.3 L172.3,237.5 L171.0,229.1 L169.7,220.8 L169.0,216.3 L167.7,207.9 L167.5,209.5 L166.6,216.8 L164.0,237.9 L162.1,220.1 L160.7,206.9 L160.5,208.4 L158.3,225.0 L156.4,239.4 L156.1,237.7 L153.9,225.0 L151.9,213.4 L151.7,215.4 L150.7,225.6 L150.0,232.7 L149.4,238.8 L148.8,237.6 L148.0,235.9 L147.5,234.9 L146.0,226.5 L145.0,220.8 L143.0,209.6 L142.5,208.7 L140.8,205.8 L139.8,203.0 L139.2,201.3 L139.0,199.4 L138.3,192.5 L138.0,189.5 L137.5,183.1 L136.9,175.3 L136.7,172.7 L136.0,168.1 L135.6,165.4 L135.4,164.3 L134.5,159.4 L134.2,157.7 L134.1,157.6 L132.6,155.8 L132.5,155.8 L130.8,155.0 L129.6,155.5 L129.0,155.7 L128.6,156.9 L128.3,157.8 L127.5,160.0 L127.4,160.7 L126.3,168.2 L126.0,172.5 L125.8,175.4 L125.2,184.1 L124.4,185.4 L124.2,185.8 L123.6,184.0 L122.3,180.3 L122.0,179.4 L120.3,174.5 L119.7,176.4 L117.5,183.4 L117.0,182.2 L115.0,177.2 L112.4,180.7Z" fill="#6b8272" stroke="#6b8272" stroke-width="0.3"/><path d="M112.4,177.5 L115.0,174.8 L117.0,180.0 L117.5,181.3 L119.7,172.6 L120.3,170.2 L122.0,173.7 L122.3,174.3 L123.6,176.9 L124.2,178.1 L124.4,177.9 L125.2,176.9 L125.8,168.5 L126.0,165.7 L126.3,161.5 L127.4,154.5 L127.5,153.9 L128.3,151.6 L128.6,150.7 L129.0,149.6 L129.6,149.4 L130.8,148.9 L132.5,150.3 L132.6,150.4 L134.1,152.8 L134.2,153.0 L134.5,154.6 L135.4,159.6 L135.6,160.7 L136.0,163.3 L136.7,168.0 L136.9,170.7 L137.5,178.9 L138.0,185.8 L138.3,189.0 L139.0,196.4 L139.2,198.5 L139.8,200.6 L140.8,204.1 L142.5,207.7 L143.0,208.7 L145.0,220.0 L146.0,225.7 L147.5,234.1 L148.0,235.1 L148.8,236.8 L149.4,238.0 L150.0,231.9 L150.7,224.8 L151.7,214.6 L151.9,212.6 L153.9,224.2 L156.1,237.1 L156.4,238.6 L158.3,224.2 L160.5,207.6 L160.7,206.1 L162.1,219.3 L164.0,237.1 L166.6,216.0 L167.5,208.7 L167.7,207.1 L169.0,215.5 L169.7,220.0 L171.0,228.3 L172.3,236.7 L176.7,228.5 L179.9,234.3 L183.0,239.9 L186.2,233.0 L188.4,223.4 L191.3,229.4 L194.5,236.0 L197.0,241.1 L199.5,234.8 L201.5,229.7 L204.0,231.1 L207.2,232.9 L210.3,229.8 L211.0,229.1 L212.0,218.4 L212.5,213.0 L212.9,208.7 L213.8,201.3 L215.5,187.3 L215.6,188.2 L216.8,198.5 L217.5,204.5 L218.0,208.7 L219.0,221.5 L219.5,227.8 L219.9,232.9 L220.0,233.0 L220.5,233.3 L221.8,234.1 L224.3,230.4 L226.8,239.9 L230.8,229.1 L236.7,236.6 L242.5,222.4 L245.8,229.9 L250.0,222.4 L252.0,225.1 L252.5,225.8 L254.5,217.1 L255.0,214.9 L256.7,218.8 L258.3,222.4 L259.2,224.2 L260.0,225.8 L261.0,228.0 L262.5,231.4 L263.3,233.2 L263.7,234.1 L265.5,225.0 L267.5,214.9 L268.0,212.3 L268.3,210.8 L272.5,219.9 L275.8,209.1 L276.2,209.8 L276.7,210.6 L279.2,214.9 L281.7,204.8 L282.0,203.6 L282.5,201.6 L285.0,211.0 L286.7,217.4 L287.5,223.1 L288.0,226.6 L290.0,240.8 L296.7,241.6 L300.0,233.3 L303.3,237.4 L306.3,234.1 L306.7,234.7 L310.3,239.9 L314.2,230.6 L314.5,229.9 L318.3,233.3 L322.5,230.8 L325.0,242.4 L327.5,242.4 L330.8,242.4 L336.7,239.9 L339.0,232.9 L339.2,232.3 L340.8,227.4 L345.0,226.6 L345.8,227.0 L347.5,227.7 L350.0,228.8 L355.0,228.4 L355.8,228.3 L356.7,230.4 L358.3,234.1 L359.5,236.8 L361.7,241.6 L363.8,236.4 L364.7,234.1 L366.7,236.4 L368.3,238.3 L373.3,242.1 L375.8,241.3 L377.7,240.6 L378.3,240.4 L380.0,241.0 L384.2,242.5 L385.0,242.8 L390.0,241.1 L393.3,240.0 L395.0,239.4 L395.8,239.8 L398.3,240.9 L400.8,242.1 L405.0,240.3 L405.8,240.0 L412.5,241.6 L413.3,241.8 L415.8,241.8 L418.8,241.8 L422.5,241.8 L428.3,241.8 L433.3,241.8 L439.0,241.8 L439.2,241.8 L439.6,240.0 L440.0,238.3 L441.0,233.8 L441.4,232.0 L441.7,230.7 L442.6,218.7 L443.7,204.0 L444.2,197.3 L444.8,203.4 L445.0,206.2 L447.0,214.6 L447.9,218.4 L448.0,218.9 L448.3,220.1 L448.7,221.6 L450.0,226.3 L451.5,231.8 L451.7,232.5 L452.3,233.9 L453.3,236.2 L454.0,237.8 L455.0,240.1 L456.7,238.8 L458.3,237.6 L459.5,240.0 L460.0,241.0 L461.7,240.4 L465.0,239.3 L469.2,235.1 L470.0,234.3 L471.3,232.7 L472.0,231.9 L473.0,230.6 L473.5,229.9 L473.6,229.5 L474.2,227.5 L474.4,226.5 L474.8,223.3 L475.3,219.3 L475.8,215.7 L476.0,214.2 L476.6,209.4 L477.4,205.2 L478.2,202.3 L480.0,195.7 L480.3,194.6 L480.4,194.3 L482.2,200.7 L482.6,202.2 L483.3,204.7 L483.5,205.3 L484.2,207.4 L484.5,207.3 L485.0,207.0 L487.0,205.6 L487.1,205.5 L488.0,206.1 L488.3,206.4 L488.7,206.6 L489.2,207.0 L490.6,206.2 L491.0,205.9 L491.6,206.7 L491.7,207.4 L492.3,219.2 L493.3,220.1 L493.5,220.3 L493.8,220.3 L495.0,220.3 L496.5,220.4 L497.0,220.4 L497.5,220.8 L498.2,223.4 L498.5,224.5 L498.6,224.9 L498.8,225.8 L499.0,226.7 L500.0,231.3 L500.9,233.8 L501.0,234.1 L502.8,238.0 L503.3,237.4 L504.8,234.9 L505.0,234.5 L506.2,232.5 L506.7,226.3 L506.9,224.4 L507.0,222.5 L507.6,214.8 L507.7,213.2 L507.9,209.3 L508.3,203.7 L508.5,200.3 L509.2,187.6 L509.3,186.7 L509.5,187.9 L510.0,192.2 L510.6,197.4 L510.6,198.1 L511.1,204.0 L511.2,205.4 L511.4,207.3 L511.7,212.0 L511.8,212.6 L511.9,214.5 L512.6,225.3 L513.0,231.4 L513.3,236.0 L513.6,236.3 L515.0,238.1 L516.0,239.2 L516.7,240.1 L518.3,239.3 L522.5,237.2 L525.0,236.0 L525.5,236.1 L528.3,236.8 L531.7,237.6 L532.5,237.2 L535.0,236.0 L537.5,242.6 L541.7,237.6 L544.2,243.5 L544.5,242.8 L546.3,238.5 L546.7,237.6 L550.8,239.3 L554.2,241.8 L558.0,242.2 L558.3,242.3 L562.5,239.3 L568.3,242.6 L574.2,242.6 L578.3,240.1 L582.5,241.8 L585.0,235.5 L585.8,233.5 L589.2,232.6 L591.7,236.8 L595.0,232.6 L596.0,229.4 L597.5,224.6 L599.2,219.1 L601.7,229.2 L602.0,229.9 L604.2,234.3 L605.0,236.0 L607.5,239.1 L608.3,240.1 L610.8,236.8 L613.3,240.4 L614.2,241.8 L616.7,242.4 L617.5,242.6 L621.7,238.5 L625.0,241.8 L628.3,240.1 L633.3,242.3 L636.4,239.7 L637.5,237.3 L641.3,229.1 L641.9,229.4 L646.9,232.5 L647.0,232.6 L651.1,225.8 L651.3,225.5 L655.5,236.1 L660.5,229.8 L663.3,235.3 L664.8,238.3 L665.5,238.4 L672.6,239.7 L674.7,241.1 L676.8,242.5 L677.0,242.5 L677.0,242.9 L676.8,242.9 L674.7,241.5 L672.6,240.1 L665.5,238.8 L664.8,238.7 L663.3,235.8 L660.5,230.2 L655.5,236.5 L651.3,225.9 L651.1,226.3 L647.0,233.0 L646.9,233.0 L641.9,229.9 L641.3,229.5 L637.5,237.7 L636.4,240.1 L633.3,242.7 L628.3,240.5 L625.0,242.2 L621.7,238.9 L617.5,243.0 L616.7,242.8 L614.2,242.2 L613.3,240.9 L610.8,237.2 L608.3,240.5 L607.5,239.5 L605.0,236.4 L604.2,234.8 L602.0,230.3 L601.7,229.7 L599.2,219.6 L597.5,225.1 L596.0,229.9 L595.0,233.0 L591.7,237.2 L589.2,233.0 L585.8,233.9 L585.0,235.9 L582.5,242.2 L578.3,240.5 L574.2,243.0 L568.3,243.0 L562.5,239.7 L558.3,242.7 L558.0,242.7 L554.2,242.2 L550.8,239.7 L546.7,238.0 L546.3,239.0 L544.5,243.2 L544.2,243.9 L541.7,238.0 L537.5,243.0 L535.0,236.4 L532.5,237.6 L531.7,238.0 L528.3,237.2 L525.5,236.5 L525.0,236.4 L522.5,237.7 L518.3,239.7 L516.7,240.5 L516.0,239.7 L515.0,238.5 L513.6,236.8 L513.3,236.4 L513.0,231.9 L512.6,225.9 L511.9,215.4 L511.8,213.6 L511.7,212.9 L511.4,208.5 L511.2,206.6 L511.1,205.3 L510.6,199.6 L510.6,199.0 L510.0,194.2 L509.5,190.1 L509.3,188.7 L509.2,189.5 L508.5,201.5 L508.3,204.7 L507.9,210.1 L507.7,214.0 L507.6,215.5 L507.0,223.1 L506.9,224.9 L506.7,226.8 L506.2,233.0 L505.0,235.0 L504.8,235.3 L503.3,237.9 L502.8,238.6 L501.0,234.9 L500.9,234.6 L500.0,232.5 L499.0,229.0 L498.8,228.3 L498.6,227.6 L498.5,227.3 L498.2,226.6 L497.5,225.0 L497.0,224.5 L496.5,224.5 L495.0,224.8 L493.8,225.0 L493.5,225.0 L493.3,224.8 L492.3,223.4 L491.7,214.0 L491.6,212.9 L491.0,212.6 L490.6,212.6 L489.2,212.8 L488.7,212.6 L488.3,212.5 L488.0,212.4 L487.1,212.0 L487.0,212.0 L485.0,212.3 L484.5,212.4 L484.2,212.2 L483.5,210.8 L483.3,210.4 L482.6,208.4 L482.2,207.3 L480.4,202.1 L480.3,202.4 L480.0,203.2 L478.2,208.3 L477.4,210.6 L476.6,215.1 L476.0,219.0 L475.8,220.1 L475.3,222.9 L474.8,225.8 L474.4,228.1 L474.2,229.0 L473.6,230.3 L473.5,230.5 L473.0,231.1 L472.0,232.3 L471.3,233.2 L470.0,234.7 L469.2,235.5 L465.0,239.7 L461.7,240.8 L460.0,241.4 L459.5,240.4 L458.3,238.0 L456.7,239.2 L455.0,240.5 L454.0,238.2 L453.3,236.7 L452.3,234.4 L451.7,233.0 L451.5,232.3 L450.0,227.1 L448.7,222.5 L448.3,221.1 L448.0,220.0 L447.9,219.6 L447.0,216.1 L445.0,208.5 L444.8,205.9 L444.2,200.0 L443.7,206.3 L442.6,220.0 L441.7,231.3 L441.4,232.6 L441.0,234.4 L440.0,238.8 L439.6,240.5 L439.2,242.2 L439.0,242.2 L433.3,242.2 L428.3,242.2 L422.5,242.2 L418.8,242.2 L415.8,242.2 L413.3,242.2 L412.5,242.0 L405.8,240.5 L405.0,240.9 L400.8,242.8 L398.3,241.6 L395.8,240.4 L395.0,240.1 L393.3,240.6 L390.0,241.8 L385.0,243.5 L384.2,243.2 L380.0,241.7 L378.3,241.1 L377.7,241.3 L375.8,241.9 L373.3,242.8 L368.3,239.0 L366.7,237.1 L364.7,234.8 L363.8,237.0 L361.7,242.3 L359.5,237.4 L358.3,234.8 L356.7,231.0 L355.8,229.0 L355.0,229.0 L350.0,229.5 L347.5,228.4 L345.8,227.6 L345.0,227.3 L340.8,228.1 L339.2,232.9 L339.0,233.5 L336.7,240.6 L330.8,243.1 L327.5,243.1 L325.0,243.1 L322.5,231.5 L318.3,234.0 L314.5,230.6 L314.2,231.3 L310.3,240.6 L306.7,235.3 L306.3,234.8 L303.3,238.1 L300.0,234.0 L296.7,242.3 L290.0,241.5 L288.0,227.3 L287.5,223.7 L286.7,218.1 L285.0,211.7 L282.5,202.3 L282.0,204.3 L281.7,205.5 L279.2,215.6 L276.7,211.3 L276.2,210.4 L275.8,209.8 L272.5,220.6 L268.3,211.5 L268.0,213.0 L267.5,215.5 L265.5,225.6 L263.7,234.8 L263.3,233.9 L262.5,232.1 L261.0,228.7 L260.0,226.5 L259.2,224.9 L258.3,223.1 L256.7,219.4 L255.0,215.6 L254.5,217.7 L252.5,226.5 L252.0,225.8 L250.0,223.1 L245.8,230.6 L242.5,223.1 L236.7,237.3 L230.8,229.8 L226.8,240.6 L224.3,231.1 L221.8,234.8 L220.5,233.9 L220.0,233.6 L219.9,233.6 L219.5,228.5 L219.0,222.1 L218.0,209.4 L217.5,206.1 L216.8,201.5 L215.6,193.6 L215.5,193.0 L213.8,203.7 L212.9,209.4 L212.5,213.7 L212.0,219.1 L211.0,229.8 L210.3,230.5 L207.2,233.6 L204.0,231.8 L201.5,230.4 L199.5,235.4 L197.0,241.8 L194.5,236.6 L191.3,230.0 L188.4,224.1 L186.2,233.0 L183.0,240.6 L179.9,235.0 L176.7,229.2 L172.3,237.4 L171.0,229.0 L169.7,220.6 L169.0,216.1 L167.7,207.8 L167.5,209.4 L166.6,216.7 L164.0,237.8 L162.1,219.9 L160.7,206.8 L160.5,208.3 L158.3,224.9 L156.4,239.3 L156.1,237.6 L153.9,224.8 L151.9,213.3 L151.7,215.3 L150.7,225.5 L150.0,232.6 L149.4,238.7 L148.8,237.4 L148.0,235.8 L147.5,234.8 L146.0,226.3 L145.0,220.7 L143.0,209.4 L142.5,208.5 L140.8,205.5 L139.8,202.6 L139.2,200.8 L139.0,198.9 L138.3,191.9 L138.0,188.9 L137.5,182.3 L136.9,174.5 L136.7,171.9 L136.0,167.2 L135.6,164.6 L135.4,163.5 L134.5,158.5 L134.2,156.9 L134.1,156.8 L132.6,154.9 L132.5,154.8 L130.8,154.0 L129.6,154.4 L129.0,154.7 L128.6,155.8 L128.3,156.7 L127.5,159.0 L127.4,159.6 L126.3,167.0 L126.0,171.3 L125.8,174.2 L125.2,182.9 L124.4,184.1 L124.2,184.4 L123.6,182.8 L122.3,179.2 L122.0,178.4 L120.3,173.7 L119.7,175.7 L117.5,183.1 L117.0,181.8 L115.0,176.8 L112.4,180.2Z" fill="#cd6155" stroke="#cd6155" stroke-width="0.3"/><path d="M112.4,176.5 L115.0,174.1 L117.0,179.3 L117.5,180.7 L119.7,171.4 L120.3,168.8 L122.0,171.8 L122.3,172.4 L123.6,174.7 L124.2,175.7 L124.4,175.5 L125.2,174.7 L125.8,166.3 L126.0,163.5 L126.3,159.4 L127.4,152.6 L127.5,151.9 L128.3,149.7 L128.6,148.8 L129.0,147.6 L129.6,147.4 L130.8,146.9 L132.5,148.6 L132.6,148.7 L134.1,151.3 L134.2,151.5 L134.5,153.1 L135.4,158.1 L135.6,159.2 L136.0,161.8 L136.7,166.5 L136.9,169.3 L137.5,177.6 L138.0,184.6 L138.3,187.9 L139.0,195.4 L139.2,197.6 L139.8,199.8 L140.8,203.5 L142.5,207.3 L143.0,208.5 L145.0,219.8 L146.0,225.4 L147.5,233.9 L148.0,234.9 L148.8,236.5 L149.4,237.8 L150.0,231.7 L150.7,224.5 L151.7,214.4 L151.9,212.4 L153.9,223.9 L156.1,237.0 L156.4,238.4 L158.3,224.0 L160.5,207.4 L160.7,205.9 L162.1,219.0 L164.0,236.9 L166.6,215.8 L167.5,208.5 L167.7,206.9 L169.0,215.2 L169.7,219.7 L171.0,228.1 L172.3,236.5 L176.7,228.3 L179.9,234.0 L183.0,239.7 L186.2,233.0 L188.4,223.2 L191.3,229.1 L194.5,235.7 L197.0,240.9 L199.5,234.5 L201.5,229.5 L204.0,230.9 L207.2,232.7 L210.3,229.6 L211.0,228.9 L212.0,218.1 L212.5,212.8 L212.9,208.5 L213.8,200.4 L215.5,185.2 L215.6,186.1 L216.8,197.3 L217.5,203.8 L218.0,208.5 L219.0,221.2 L219.5,227.6 L219.9,232.6 L220.0,232.7 L220.5,233.0 L221.8,233.9 L224.3,230.2 L226.8,239.7 L230.8,228.9 L236.7,236.4 L242.5,222.2 L245.8,229.7 L250.0,222.2 L252.0,224.9 L252.5,225.6 L254.5,216.8 L255.0,214.7 L256.7,218.5 L258.3,222.2 L259.2,224.0 L260.0,225.6 L261.0,227.8 L262.5,231.2 L263.3,233.0 L263.7,233.9 L265.5,224.7 L267.5,214.6 L268.0,212.1 L268.3,210.6 L272.5,219.7 L275.8,208.9 L276.2,209.5 L276.7,210.4 L279.2,214.7 L281.7,204.6 L282.0,203.4 L282.5,201.4 L285.0,210.8 L286.7,217.2 L287.5,222.8 L288.0,226.4 L290.0,240.6 L296.7,241.4 L300.0,233.1 L303.3,237.2 L306.3,233.9 L306.7,234.4 L310.3,239.7 L314.2,230.4 L314.5,229.7 L318.3,233.1 L322.5,230.6 L325.0,242.2 L327.5,242.2 L330.8,242.2 L336.7,239.7 L339.0,232.6 L339.2,232.0 L340.8,227.2 L345.0,226.4 L345.8,226.7 L347.5,227.5 L350.0,228.6 L355.0,228.1 L355.8,228.1 L356.7,230.1 L358.3,233.9 L359.5,236.5 L361.7,241.4 L363.8,236.1 L364.7,233.9 L366.7,236.2 L368.3,238.1 L373.3,241.9 L375.8,241.0 L377.7,240.4 L378.3,240.2 L380.0,240.8 L384.2,242.3 L385.0,242.6 L390.0,240.9 L393.3,239.7 L395.0,239.2 L395.8,239.5 L398.3,240.7 L400.8,241.9 L405.0,240.1 L405.8,239.8 L412.5,241.4 L413.3,241.6 L415.8,241.6 L418.8,241.6 L422.5,241.6 L428.3,241.6 L433.3,241.6 L439.0,241.6 L439.2,241.6 L439.6,239.9 L440.0,238.1 L441.0,233.6 L441.4,231.8 L441.7,230.4 L442.6,218.1 L443.7,203.1 L444.2,196.3 L444.8,202.5 L445.0,205.3 L447.0,214.1 L447.9,218.0 L448.0,218.5 L448.3,219.8 L448.7,221.3 L450.0,226.1 L451.5,231.6 L451.7,232.3 L452.3,233.7 L453.3,236.0 L454.0,237.6 L455.0,239.9 L456.7,238.6 L458.3,237.4 L459.5,239.8 L460.0,240.8 L461.7,240.2 L465.0,239.1 L469.2,234.9 L470.0,234.1 L471.3,232.6 L472.0,231.7 L473.0,230.4 L473.5,229.7 L473.6,229.3 L474.2,226.9 L474.4,225.8 L474.8,222.4 L475.3,218.0 L475.8,214.0 L476.0,212.4 L476.6,207.3 L477.4,203.2 L478.2,200.0 L480.0,192.9 L480.3,191.7 L480.4,191.3 L482.2,198.3 L482.6,199.8 L483.3,202.5 L483.5,203.2 L484.2,205.6 L484.5,205.5 L485.0,205.0 L487.0,203.1 L487.1,203.0 L488.0,203.8 L488.3,204.0 L488.7,204.4 L489.2,204.8 L490.6,203.8 L491.0,203.5 L491.6,204.3 L491.7,204.9 L492.3,217.7 L493.3,218.4 L493.5,218.5 L493.8,218.5 L495.0,218.6 L496.5,218.8 L497.0,218.9 L497.5,219.2 L498.2,222.2 L498.5,223.4 L498.6,223.9 L498.8,224.8 L499.0,225.8 L500.0,230.9 L500.9,233.5 L501.0,233.8 L502.8,237.8 L503.3,237.2 L504.8,234.7 L505.0,234.4 L506.2,232.3 L506.7,226.2 L506.9,224.2 L507.0,222.3 L507.6,214.5 L507.7,212.9 L507.9,208.9 L508.3,203.4 L508.5,199.9 L509.2,186.8 L509.3,185.9 L509.5,187.1 L510.0,191.5 L510.6,196.8 L510.6,197.5 L511.1,203.5 L511.2,204.9 L511.4,206.9 L511.7,211.6 L511.8,212.3 L511.9,214.2 L512.6,225.0 L513.0,231.2 L513.3,235.8 L513.6,236.2 L515.0,237.9 L516.0,239.1 L516.7,239.9 L518.3,239.1 L522.5,237.0 L525.0,235.8 L525.5,235.9 L528.3,236.6 L531.7,237.4 L532.5,237.0 L535.0,235.8 L537.5,242.4 L541.7,237.4 L544.2,243.3 L544.5,242.6 L546.3,238.3 L546.7,237.4 L550.8,239.1 L554.2,241.6 L558.0,242.1 L558.3,242.1 L562.5,239.1 L568.3,242.4 L574.2,242.4 L578.3,239.9 L582.5,241.6 L585.0,235.3 L585.8,233.3 L589.2,232.4 L591.7,236.6 L595.0,232.4 L596.0,229.2 L597.5,224.4 L599.2,218.8 L601.7,229.1 L602.0,229.7 L604.2,234.2 L605.0,235.8 L607.5,238.9 L608.3,239.9 L610.8,236.6 L613.3,240.3 L614.2,241.6 L616.7,242.2 L617.5,242.4 L621.7,238.3 L625.0,241.6 L628.3,239.9 L633.3,242.1 L636.4,239.5 L637.5,237.1 L641.3,228.9 L641.9,229.3 L646.9,232.3 L647.0,232.4 L651.1,225.6 L651.3,225.3 L655.5,235.9 L660.5,229.6 L663.3,235.1 L664.8,238.1 L665.5,238.2 L672.6,239.5 L674.7,240.9 L676.8,242.3 L677.0,242.3 L677.0,242.5 L676.8,242.5 L674.7,241.1 L672.6,239.7 L665.5,238.4 L664.8,238.3 L663.3,235.3 L660.5,229.8 L655.5,236.1 L651.3,225.5 L651.1,225.8 L647.0,232.6 L646.9,232.5 L641.9,229.4 L641.3,229.1 L637.5,237.3 L636.4,239.7 L633.3,242.3 L628.3,240.1 L625.0,241.8 L621.7,238.5 L617.5,242.6 L616.7,242.4 L614.2,241.8 L613.3,240.4 L610.8,236.8 L608.3,240.1 L607.5,239.1 L605.0,236.0 L604.2,234.3 L602.0,229.9 L601.7,229.2 L599.2,219.1 L597.5,224.6 L596.0,229.4 L595.0,232.6 L591.7,236.8 L589.2,232.6 L585.8,233.5 L585.0,235.5 L582.5,241.8 L578.3,240.1 L574.2,242.6 L568.3,242.6 L562.5,239.3 L558.3,242.3 L558.0,242.2 L554.2,241.8 L550.8,239.3 L546.7,237.6 L546.3,238.5 L544.5,242.8 L544.2,243.5 L541.7,237.6 L537.5,242.6 L535.0,236.0 L532.5,237.2 L531.7,237.6 L528.3,236.8 L525.5,236.1 L525.0,236.0 L522.5,237.2 L518.3,239.3 L516.7,240.1 L516.0,239.2 L515.0,238.1 L513.6,236.3 L513.3,236.0 L513.0,231.4 L512.6,225.3 L511.9,214.5 L511.8,212.6 L511.7,212.0 L511.4,207.3 L511.2,205.4 L511.1,204.0 L510.6,198.1 L510.6,197.4 L510.0,192.2 L509.5,187.9 L509.3,186.7 L509.2,187.6 L508.5,200.3 L508.3,203.7 L507.9,209.3 L507.7,213.2 L507.6,214.8 L507.0,222.5 L506.9,224.4 L506.7,226.3 L506.2,232.5 L505.0,234.5 L504.8,234.9 L503.3,237.4 L502.8,238.0 L501.0,234.1 L500.9,233.8 L500.0,231.3 L499.0,226.7 L498.8,225.8 L498.6,224.9 L498.5,224.5 L498.2,223.4 L497.5,220.8 L497.0,220.4 L496.5,220.4 L495.0,220.3 L493.8,220.3 L493.5,220.3 L493.3,220.1 L492.3,219.2 L491.7,207.4 L491.6,206.7 L491.0,205.9 L490.6,206.2 L489.2,207.0 L488.7,206.6 L488.3,206.4 L488.0,206.1 L487.1,205.5 L487.0,205.6 L485.0,207.0 L484.5,207.3 L484.2,207.4 L483.5,205.3 L483.3,204.7 L482.6,202.2 L482.2,200.7 L480.4,194.3 L480.3,194.6 L480.0,195.7 L478.2,202.3 L477.4,205.2 L476.6,209.4 L476.0,214.2 L475.8,215.7 L475.3,219.3 L474.8,223.3 L474.4,226.5 L474.2,227.5 L473.6,229.5 L473.5,229.9 L473.0,230.6 L472.0,231.9 L471.3,232.7 L470.0,234.3 L469.2,235.1 L465.0,239.3 L461.7,240.4 L460.0,241.0 L459.5,240.0 L458.3,237.6 L456.7,238.8 L455.0,240.1 L454.0,237.8 L453.3,236.2 L452.3,233.9 L451.7,232.5 L451.5,231.8 L450.0,226.3 L448.7,221.6 L448.3,220.1 L448.0,218.9 L447.9,218.4 L447.0,214.6 L445.0,206.2 L444.8,203.4 L444.2,197.3 L443.7,204.0 L442.6,218.7 L441.7,230.7 L441.4,232.0 L441.0,233.8 L440.0,238.3 L439.6,240.0 L439.2,241.8 L439.0,241.8 L433.3,241.8 L428.3,241.8 L422.5,241.8 L418.8,241.8 L415.8,241.8 L413.3,241.8 L412.5,241.6 L405.8,240.0 L405.0,240.3 L400.8,242.1 L398.3,240.9 L395.8,239.8 L395.0,239.4 L393.3,240.0 L390.0,241.1 L385.0,242.8 L384.2,242.5 L380.0,241.0 L378.3,240.4 L377.7,240.6 L375.8,241.3 L373.3,242.1 L368.3,238.3 L366.7,236.4 L364.7,234.1 L363.8,236.4 L361.7,241.6 L359.5,236.8 L358.3,234.1 L356.7,230.4 L355.8,228.3 L355.0,228.4 L350.0,228.8 L347.5,227.7 L345.8,227.0 L345.0,226.6 L340.8,227.4 L339.2,232.3 L339.0,232.9 L336.7,239.9 L330.8,242.4 L327.5,242.4 L325.0,242.4 L322.5,230.8 L318.3,233.3 L314.5,229.9 L314.2,230.6 L310.3,239.9 L306.7,234.7 L306.3,234.1 L303.3,237.4 L300.0,233.3 L296.7,241.6 L290.0,240.8 L288.0,226.6 L287.5,223.1 L286.7,217.4 L285.0,211.0 L282.5,201.6 L282.0,203.6 L281.7,204.8 L279.2,214.9 L276.7,210.6 L276.2,209.8 L275.8,209.1 L272.5,219.9 L268.3,210.8 L268.0,212.3 L267.5,214.9 L265.5,225.0 L263.7,234.1 L263.3,233.2 L262.5,231.4 L261.0,228.0 L260.0,225.8 L259.2,224.2 L258.3,222.4 L256.7,218.8 L255.0,214.9 L254.5,217.1 L252.5,225.8 L252.0,225.1 L250.0,222.4 L245.8,229.9 L242.5,222.4 L236.7,236.6 L230.8,229.1 L226.8,239.9 L224.3,230.4 L221.8,234.1 L220.5,233.3 L220.0,233.0 L219.9,232.9 L219.5,227.8 L219.0,221.5 L218.0,208.7 L217.5,204.5 L216.8,198.5 L215.6,188.2 L215.5,187.3 L213.8,201.3 L212.9,208.7 L212.5,213.0 L212.0,218.4 L211.0,229.1 L210.3,229.8 L207.2,232.9 L204.0,231.1 L201.5,229.7 L199.5,234.8 L197.0,241.1 L194.5,236.0 L191.3,229.4 L188.4,223.4 L186.2,233.0 L183.0,239.9 L179.9,234.3 L176.7,228.5 L172.3,236.7 L171.0,228.3 L169.7,220.0 L169.0,215.5 L167.7,207.1 L167.5,208.7 L166.6,216.0 L164.0,237.1 L162.1,219.3 L160.7,206.1 L160.5,207.6 L158.3,224.2 L156.4,238.6 L156.1,237.1 L153.9,224.2 L151.9,212.6 L151.7,214.6 L150.7,224.8 L150.0,231.9 L149.4,238.0 L148.8,236.8 L148.0,235.1 L147.5,234.1 L146.0,225.7 L145.0,220.0 L143.0,208.7 L142.5,207.7 L140.8,204.1 L139.8,200.6 L139.2,198.5 L139.0,196.4 L138.3,189.0 L138.0,185.8 L137.5,178.9 L136.9,170.7 L136.7,168.0 L136.0,163.3 L135.6,160.7 L135.4,159.6 L134.5,154.6 L134.2,153.0 L134.1,152.8 L132.6,150.4 L132.5,150.3 L130.8,148.9 L129.6,149.4 L129.0,149.6 L128.6,150.7 L128.3,151.6 L127.5,153.9 L127.4,154.5 L126.3,161.5 L126.0,165.7 L125.8,168.5 L125.2,176.9 L124.4,177.9 L124.2,178.1 L123.6,176.9 L122.3,174.3 L122.0,173.7 L120.3,170.2 L119.7,172.6 L117.5,181.3 L117.0,180.0 L115.0,174.8 L112.4,177.5Z" fill="#e8d22e" stroke="#e8d22e" stroke-width="0.3"/><path d="M112.4,175.5 L115.0,173.3 L117.0,178.7 L117.5,180.0 L119.7,170.2 L120.3,167.5 L122.0,170.0 L122.3,170.5 L123.6,172.4 L124.2,173.3 L124.4,173.1 L125.2,172.4 L125.8,164.1 L126.0,161.4 L126.3,157.3 L127.4,150.6 L127.5,150.0 L128.3,147.7 L128.6,146.8 L129.0,145.7 L129.6,145.5 L130.8,145.0 L132.5,146.9 L132.6,147.0 L134.1,149.8 L134.2,150.0 L134.5,151.7 L135.4,156.6 L135.6,157.7 L136.0,160.4 L136.7,165.0 L136.9,167.8 L137.5,176.3 L138.0,183.4 L138.3,186.7 L139.0,194.5 L139.2,196.7 L139.8,199.1 L140.8,203.0 L142.5,207.0 L143.0,208.2 L145.0,219.5 L146.0,225.2 L147.5,233.6 L148.0,234.6 L148.8,236.3 L149.4,237.5 L150.0,231.4 L150.7,224.3 L151.7,214.1 L151.9,212.1 L153.9,223.7 L156.1,236.8 L156.4,238.1 L158.3,223.7 L160.5,207.1 L160.7,205.6 L162.1,218.8 L164.0,236.6 L166.6,215.5 L167.5,208.2 L167.7,206.6 L169.0,215.0 L169.7,219.5 L171.0,227.8 L172.3,236.2 L176.7,228.0 L179.9,233.8 L183.0,239.4 L186.2,233.0 L188.4,222.9 L191.3,228.9 L194.5,235.5 L197.0,240.6 L199.5,234.3 L201.5,229.2 L204.0,230.6 L207.2,232.4 L210.3,229.3 L211.0,228.6 L212.0,217.9 L212.5,212.5 L212.9,208.2 L213.8,199.5 L215.5,183.0 L215.6,184.0 L216.8,196.1 L217.5,203.2 L218.0,208.2 L219.0,220.9 L219.5,227.3 L219.9,232.4 L220.0,232.5 L220.5,232.8 L221.8,233.6 L224.3,229.9 L226.8,239.4 L230.8,228.6 L236.7,236.1 L242.5,221.9 L245.8,229.4 L250.0,221.9 L252.0,224.6 L252.5,225.3 L254.5,216.6 L255.0,214.4 L256.7,218.3 L258.3,221.9 L259.2,223.7 L260.0,225.3 L261.0,227.5 L262.5,230.9 L263.3,232.7 L263.7,233.6 L265.5,224.5 L267.5,214.4 L268.0,211.8 L268.3,210.3 L272.5,219.4 L275.8,208.6 L276.2,209.3 L276.7,210.1 L279.2,214.4 L281.7,204.3 L282.0,203.1 L282.5,201.1 L285.0,210.5 L286.7,216.9 L287.5,222.6 L288.0,226.1 L290.0,240.3 L296.7,241.1 L300.0,232.8 L303.3,236.9 L306.3,233.6 L306.7,234.2 L310.3,239.4 L314.2,230.1 L314.5,229.4 L318.3,232.8 L322.5,230.3 L325.0,241.9 L327.5,241.9 L330.8,241.9 L336.7,239.4 L339.0,232.4 L339.2,231.8 L340.8,226.9 L345.0,226.1 L345.8,226.5 L347.5,227.2 L350.0,228.3 L355.0,227.9 L355.8,227.8 L356.7,229.9 L358.3,233.6 L359.5,236.2 L361.7,241.1 L363.8,235.8 L364.7,233.6 L366.7,235.9 L368.3,237.8 L373.3,241.6 L375.8,240.8 L377.7,240.1 L378.3,239.9 L380.0,240.5 L384.2,242.0 L385.0,242.3 L390.0,240.6 L393.3,239.5 L395.0,238.9 L395.8,239.3 L398.3,240.4 L400.8,241.6 L405.0,239.8 L405.8,239.4 L412.5,240.9 L413.3,241.1 L415.8,241.1 L418.8,241.1 L422.5,241.1 L428.3,241.1 L433.3,241.1 L439.0,241.1 L439.2,241.1 L439.6,239.4 L440.0,237.6 L441.0,233.0 L441.4,231.1 L441.7,229.7 L442.6,216.6 L443.7,200.6 L444.2,193.3 L444.8,199.7 L445.0,202.7 L447.0,212.4 L447.9,216.8 L448.0,217.2 L448.3,218.7 L448.7,220.2 L450.0,225.2 L451.5,231.0 L451.7,231.8 L452.3,233.2 L453.3,235.5 L454.0,237.1 L455.0,239.4 L456.7,238.1 L458.3,236.9 L459.5,239.3 L460.0,240.3 L461.7,239.7 L465.0,238.6 L469.2,234.4 L470.0,233.6 L471.3,232.1 L472.0,231.2 L473.0,229.8 L473.5,229.0 L473.6,228.4 L474.2,225.1 L474.4,224.0 L474.8,219.6 L475.3,214.0 L475.8,209.0 L476.0,207.0 L476.6,201.0 L477.4,197.1 L478.2,193.2 L480.0,184.4 L480.3,183.0 L480.4,182.5 L482.2,190.9 L482.6,192.8 L483.3,196.1 L483.5,197.0 L484.2,200.3 L484.5,199.8 L485.0,199.0 L487.0,195.9 L487.1,195.7 L488.0,196.8 L488.3,197.1 L488.7,197.6 L489.2,198.2 L490.6,196.5 L491.0,196.0 L491.6,197.3 L491.7,197.5 L492.3,213.0 L493.3,213.2 L493.5,213.2 L493.8,213.3 L495.0,213.5 L496.5,214.1 L497.0,214.3 L497.5,214.5 L498.2,218.5 L498.5,220.3 L498.6,220.8 L498.8,222.0 L499.0,223.2 L500.0,229.5 L500.9,232.6 L501.0,233.0 L502.8,237.1 L503.3,236.7 L504.8,234.1 L505.0,233.8 L506.2,231.8 L506.7,225.6 L506.9,223.6 L507.0,221.6 L507.6,213.7 L507.7,212.0 L507.9,208.0 L508.3,202.3 L508.5,198.6 L509.2,184.6 L509.3,183.7 L509.5,184.5 L510.0,189.3 L510.6,195.0 L510.6,195.7 L511.1,202.1 L511.2,203.5 L511.4,205.6 L511.7,210.5 L511.8,211.2 L511.9,213.2 L512.6,224.3 L513.0,230.6 L513.3,235.3 L513.6,235.7 L515.0,237.5 L516.0,238.6 L516.7,239.4 L518.3,238.6 L522.5,236.5 L525.0,235.3 L525.5,235.4 L528.3,236.1 L531.7,236.9 L532.5,236.5 L535.0,235.3 L537.5,241.9 L541.7,236.9 L544.2,242.8 L544.5,242.1 L546.3,237.8 L546.7,236.9 L550.8,238.6 L554.2,241.1 L558.0,241.6 L558.3,241.6 L562.5,238.6 L568.3,241.9 L574.2,241.9 L578.3,239.4 L582.5,241.1 L585.0,234.8 L585.8,232.8 L589.2,231.9 L591.7,236.1 L595.0,231.9 L596.0,228.7 L597.5,223.8 L599.2,218.2 L601.7,228.6 L602.0,229.2 L604.2,233.7 L605.0,235.3 L607.5,238.4 L608.3,239.4 L610.8,236.1 L613.3,239.8 L614.2,241.1 L616.7,241.7 L617.5,241.9 L621.7,237.8 L625.0,241.1 L628.3,239.4 L633.3,241.6 L636.4,239.0 L637.5,236.6 L641.3,228.4 L641.9,228.8 L646.9,231.8 L647.0,231.9 L651.1,225.1 L651.3,224.8 L655.5,235.4 L660.5,229.1 L663.3,234.6 L664.8,237.6 L665.5,237.7 L672.6,239.0 L674.7,240.4 L676.8,241.8 L677.0,241.8 L677.0,242.3 L676.8,242.3 L674.7,240.9 L672.6,239.5 L665.5,238.2 L664.8,238.1 L663.3,235.1 L660.5,229.6 L655.5,235.9 L651.3,225.3 L651.1,225.6 L647.0,232.4 L646.9,232.3 L641.9,229.3 L641.3,228.9 L637.5,237.1 L636.4,239.5 L633.3,242.1 L628.3,239.9 L625.0,241.6 L621.7,238.3 L617.5,242.4 L616.7,242.2 L614.2,241.6 L613.3,240.3 L610.8,236.6 L608.3,239.9 L607.5,238.9 L605.0,235.8 L604.2,234.2 L602.0,229.7 L601.7,229.1 L599.2,218.8 L597.5,224.4 L596.0,229.2 L595.0,232.4 L591.7,236.6 L589.2,232.4 L585.8,233.3 L585.0,235.3 L582.5,241.6 L578.3,239.9 L574.2,242.4 L568.3,242.4 L562.5,239.1 L558.3,242.1 L558.0,242.1 L554.2,241.6 L550.8,239.1 L546.7,237.4 L546.3,238.3 L544.5,242.6 L544.2,243.3 L541.7,237.4 L537.5,242.4 L535.0,235.8 L532.5,237.0 L531.7,237.4 L528.3,236.6 L525.5,235.9 L525.0,235.8 L522.5,237.0 L518.3,239.1 L516.7,239.9 L516.0,239.1 L515.0,237.9 L513.6,236.2 L513.3,235.8 L513.0,231.2 L512.6,225.0 L511.9,214.2 L511.8,212.3 L511.7,211.6 L511.4,206.9 L511.2,204.9 L511.1,203.5 L510.6,197.5 L510.6,196.8 L510.0,191.5 L509.5,187.1 L509.3,185.9 L509.2,186.8 L508.5,199.9 L508.3,203.4 L507.9,208.9 L507.7,212.9 L507.6,214.5 L507.0,222.3 L506.9,224.2 L506.7,226.2 L506.2,232.3 L505.0,234.4 L504.8,234.7 L503.3,237.2 L502.8,237.8 L501.0,233.8 L500.9,233.5 L500.0,230.9 L499.0,225.8 L498.8,224.8 L498.6,223.9 L498.5,223.4 L498.2,222.2 L497.5,219.2 L497.0,218.9 L496.5,218.8 L495.0,218.6 L493.8,218.5 L493.5,218.5 L493.3,218.4 L492.3,217.7 L491.7,204.9 L491.6,204.3 L491.0,203.5 L490.6,203.8 L489.2,204.8 L488.7,204.4 L488.3,204.0 L488.0,203.8 L487.1,203.0 L487.0,203.1 L485.0,205.0 L484.5,205.5 L484.2,205.6 L483.5,203.2 L483.3,202.5 L482.6,199.8 L482.2,198.3 L480.4,191.3 L480.3,191.7 L480.0,192.9 L478.2,200.0 L477.4,203.2 L476.6,207.3 L476.0,212.4 L475.8,214.0 L475.3,218.0 L474.8,222.4 L474.4,225.8 L474.2,226.9 L473.6,229.3 L473.5,229.7 L473.0,230.4 L472.0,231.7 L471.3,232.6 L470.0,234.1 L469.2,234.9 L465.0,239.1 L461.7,240.2 L460.0,240.8 L459.5,239.8 L458.3,237.4 L456.7,238.6 L455.0,239.9 L454.0,237.6 L453.3,236.0 L452.3,233.7 L451.7,232.3 L451.5,231.6 L450.0,226.1 L448.7,221.3 L448.3,219.8 L448.0,218.5 L447.9,218.0 L447.0,214.1 L445.0,205.3 L444.8,202.5 L444.2,196.3 L443.7,203.1 L442.6,218.1 L441.7,230.4 L441.4,231.8 L441.0,233.6 L440.0,238.1 L439.6,239.9 L439.2,241.6 L439.0,241.6 L433.3,241.6 L428.3,241.6 L422.5,241.6 L418.8,241.6 L415.8,241.6 L413.3,241.6 L412.5,241.4 L405.8,239.8 L405.0,240.1 L400.8,241.9 L398.3,240.7 L395.8,239.5 L395.0,239.2 L393.3,239.7 L390.0,240.9 L385.0,242.6 L384.2,242.3 L380.0,240.8 L378.3,240.2 L377.7,240.4 L375.8,241.0 L373.3,241.9 L368.3,238.1 L366.7,236.2 L364.7,233.9 L363.8,236.1 L361.7,241.4 L359.5,236.5 L358.3,233.9 L356.7,230.1 L355.8,228.1 L355.0,228.1 L350.0,228.6 L347.5,227.5 L345.8,226.7 L345.0,226.4 L340.8,227.2 L339.2,232.0 L339.0,232.6 L336.7,239.7 L330.8,242.2 L327.5,242.2 L325.0,242.2 L322.5,230.6 L318.3,233.1 L314.5,229.7 L314.2,230.4 L310.3,239.7 L306.7,234.4 L306.3,233.9 L303.3,237.2 L300.0,233.1 L296.7,241.4 L290.0,240.6 L288.0,226.4 L287.5,222.8 L286.7,217.2 L285.0,210.8 L282.5,201.4 L282.0,203.4 L281.7,204.6 L279.2,214.7 L276.7,210.4 L276.2,209.5 L275.8,208.9 L272.5,219.7 L268.3,210.6 L268.0,212.1 L267.5,214.6 L265.5,224.7 L263.7,233.9 L263.3,233.0 L262.5,231.2 L261.0,227.8 L260.0,225.6 L259.2,224.0 L258.3,222.2 L256.7,218.5 L255.0,214.7 L254.5,216.8 L252.5,225.6 L252.0,224.9 L250.0,222.2 L245.8,229.7 L242.5,222.2 L236.7,236.4 L230.8,228.9 L226.8,239.7 L224.3,230.2 L221.8,233.9 L220.5,233.0 L220.0,232.7 L219.9,232.6 L219.5,227.6 L219.0,221.2 L218.0,208.5 L217.5,203.8 L216.8,197.3 L215.6,186.1 L215.5,185.2 L213.8,200.4 L212.9,208.5 L212.5,212.8 L212.0,218.1 L211.0,228.9 L210.3,229.6 L207.2,232.7 L204.0,230.9 L201.5,229.5 L199.5,234.5 L197.0,240.9 L194.5,235.7 L191.3,229.1 L188.4,223.2 L186.2,233.0 L183.0,239.7 L179.9,234.0 L176.7,228.3 L172.3,236.5 L171.0,228.1 L169.7,219.7 L169.0,215.2 L167.7,206.9 L167.5,208.5 L166.6,215.8 L164.0,236.9 L162.1,219.0 L160.7,205.9 L160.5,207.4 L158.3,224.0 L156.4,238.4 L156.1,237.0 L153.9,223.9 L151.9,212.4 L151.7,214.4 L150.7,224.5 L150.0,231.7 L149.4,237.8 L148.8,236.5 L148.0,234.9 L147.5,233.9 L146.0,225.4 L145.0,219.8 L143.0,208.5 L142.5,207.3 L140.8,203.5 L139.8,199.8 L139.2,197.6 L139.0,195.4 L138.3,187.9 L138.0,184.6 L137.5,177.6 L136.9,169.3 L136.7,166.5 L136.0,161.8 L135.6,159.2 L135.4,158.1 L134.5,153.1 L134.2,151.5 L134.1,151.3 L132.6,148.7 L132.5,148.6 L130.8,146.9 L129.6,147.4 L129.0,147.6 L128.6,148.8 L128.3,149.7 L127.5,151.9 L127.4,152.6 L126.3,159.4 L126.0,163.5 L125.8,166.3 L125.2,174.7 L124.4,175.5 L124.2,175.7 L123.6,174.7 L122.3,172.4 L122.0,171.8 L120.3,168.8 L119.7,171.4 L117.5,180.7 L117.0,179.3 L115.0,174.1 L112.4,176.5Z" fill="#f781bf" stroke="#f781bf" stroke-width="0.3"/>
<path d="M112.4,150.5 L115.0,145.0 L117.0,153.0 L117.5,150.6 L119.7,140.0 L120.3,141.4 L122.0,145.4 L122.3,146.5 L123.6,147.2 L124.2,144.1 L124.4,143.1 L125.2,137.7 L125.8,133.6 L126.0,132.3 L126.3,129.9 L127.4,121.0 L127.5,120.6 L128.3,117.1 L128.6,115.9 L129.0,115.7 L129.6,115.3 L130.8,115.4 L132.5,115.5 L132.6,115.5 L134.1,116.2 L134.2,116.5 L134.5,117.3 L135.4,118.8 L135.6,121.4 L136.0,126.5 L136.7,135.8 L136.9,138.5 L137.5,144.2 L138.0,149.6 L138.3,152.7 L139.0,162.0 L139.2,164.7 L139.8,172.7 L140.8,170.2 L142.5,166.0 L143.0,175.1 L145.0,211.4 L146.0,216.6 L147.5,224.4 L148.0,227.0 L148.8,231.6 L149.4,225.8 L150.0,220.0 L150.7,212.7 L151.7,184.8 L151.9,187.3 L153.9,212.7 L156.1,236.8 L156.4,233.5 L158.3,212.7 L160.5,171.2 L160.7,176.4 L162.1,212.7 L164.0,235.5 L166.6,206.3 L167.5,179.0 L167.7,182.1 L169.0,202.0 L169.7,212.2 L171.0,220.3 L172.3,229.2 L176.7,219.7 L179.9,227.9 L183.0,236.1 L186.2,233.0 L188.4,211.4 L191.3,223.4 L194.5,230.4 L197.0,239.3 L199.5,226.0 L201.5,222.8 L204.0,227.2 L207.2,228.5 L210.3,225.3 L211.0,219.6 L212.0,212.9 L212.5,202.0 L212.9,191.5 L213.8,168.0 L215.5,145.6 L215.6,144.3 L216.8,168.0 L217.5,202.0 L218.0,208.0 L219.0,218.5 L219.5,221.1 L219.9,223.8 L220.0,224.5 L220.5,227.9 L221.8,225.9 L224.3,222.2 L226.8,235.5 L230.8,221.9 L236.7,231.9 L242.5,211.9 L245.8,219.4 L250.0,208.5 L252.0,213.0 L252.5,211.0 L254.5,203.2 L255.0,203.9 L256.7,206.2 L258.3,206.5 L259.2,206.7 L260.0,210.5 L261.0,215.2 L262.5,222.7 L263.3,222.8 L263.7,220.1 L265.5,208.3 L267.5,206.0 L268.0,196.7 L268.3,197.1 L272.5,203.3 L275.8,196.5 L276.2,195.6 L276.7,194.9 L279.2,201.7 L281.7,186.8 L282.0,187.6 L282.5,189.4 L285.0,198.0 L286.7,203.2 L287.5,207.8 L288.0,213.5 L290.0,236.9 L296.7,236.9 L300.0,227.7 L303.3,234.6 L306.3,224.6 L306.7,223.3 L310.3,230.7 L314.2,220.8 L314.5,221.3 L318.3,228.0 L322.5,224.3 L325.0,241.0 L327.5,239.4 L330.8,241.9 L336.7,236.0 L339.0,225.3 L339.2,225.0 L340.8,217.5 L345.0,217.3 L345.8,214.9 L347.5,218.3 L350.0,219.7 L355.0,220.5 L355.8,219.0 L356.7,219.3 L358.3,222.9 L359.5,226.2 L361.7,235.0 L363.8,228.0 L364.7,231.5 L366.7,230.3 L368.3,231.6 L373.3,235.8 L375.8,239.2 L377.7,233.0 L378.3,233.2 L380.0,233.7 L384.2,238.7 L385.0,237.6 L390.0,235.5 L393.3,236.8 L395.0,234.4 L395.8,230.5 L398.3,235.0 L400.8,236.7 L405.0,232.5 L405.8,233.5 L412.5,235.7 L413.3,236.8 L415.8,236.2 L418.8,236.7 L422.5,237.7 L428.3,238.5 L433.3,237.7 L439.0,238.4 L439.2,238.6 L439.6,238.9 L440.0,235.2 L441.0,226.0 L441.4,222.3 L441.7,214.0 L442.6,189.2 L443.7,134.8 L444.2,140.6 L444.8,146.9 L445.0,148.8 L447.0,163.8 L447.9,173.0 L448.0,175.1 L448.3,181.4 L448.7,189.7 L450.0,214.0 L451.5,225.4 L451.7,227.1 L452.3,232.3 L453.3,233.1 L454.0,233.9 L455.0,234.9 L456.7,236.7 L458.3,233.6 L459.5,231.3 L460.0,231.6 L461.7,232.7 L465.0,233.2 L469.2,213.3 L470.0,211.2 L471.3,207.7 L472.0,208.1 L473.0,208.6 L473.5,210.2 L473.6,210.5 L474.2,201.2 L474.4,198.2 L474.8,192.0 L475.3,176.4 L475.8,160.8 L476.0,154.5 L476.6,135.8 L477.4,127.4 L478.2,119.0 L480.0,118.7 L480.3,118.6 L480.4,119.5 L482.2,135.8 L482.6,145.5 L483.3,147.5 L483.5,148.1 L484.2,152.2 L484.5,154.0 L485.0,157.0 L487.0,138.7 L487.1,139.4 L488.0,145.3 L488.3,147.3 L488.7,150.0 L489.2,146.6 L490.6,137.0 L491.0,132.6 L491.6,125.9 L491.7,129.0 L492.3,147.5 L493.3,165.0 L493.5,168.5 L493.8,173.8 L495.0,174.4 L496.5,175.2 L497.0,177.3 L497.5,179.5 L498.2,182.5 L498.5,185.6 L498.6,186.7 L498.8,188.7 L499.0,190.7 L500.0,207.4 L500.9,223.0 L501.0,223.7 L502.8,236.1 L503.3,234.9 L504.8,231.2 L505.0,229.6 L506.2,220.4 L506.7,194.0 L506.9,186.1 L507.0,180.0 L507.6,157.6 L507.7,153.9 L507.9,133.5 L508.3,125.3 L508.5,120.6 L509.2,101.0 L509.3,97.5 L509.5,83.3 L510.0,47.8 L510.6,96.9 L510.6,101.0 L511.1,135.0 L511.2,143.4 L511.4,155.7 L511.7,184.8 L511.8,188.9 L511.9,193.9 L512.6,217.3 L513.0,223.3 L513.3,228.4 L513.6,233.5 L515.0,237.5 L516.0,237.0 L516.7,237.2 L518.3,237.5 L522.5,235.0 L525.0,229.8 L525.5,228.8 L528.3,235.0 L531.7,234.4 L532.5,234.2 L535.0,235.0 L537.5,241.9 L541.7,227.7 L544.2,242.7 L544.5,241.2 L546.3,233.7 L546.7,233.6 L550.8,232.8 L554.2,237.5 L558.0,240.0 L558.3,240.2 L562.5,236.0 L568.3,241.0 L574.2,241.9 L578.3,237.4 L582.5,240.2 L585.0,228.5 L585.8,228.2 L589.2,226.9 L591.7,233.5 L595.0,225.2 L596.0,218.9 L597.5,209.4 L599.2,201.0 L601.7,209.4 L602.0,211.4 L604.2,226.3 L605.0,228.3 L607.5,234.5 L608.3,234.2 L610.8,233.3 L613.3,236.0 L614.2,236.9 L616.7,239.5 L617.5,238.7 L621.7,234.7 L625.0,238.2 L628.3,235.8 L633.3,239.2 L636.4,232.4 L637.5,230.0 L641.3,222.2 L641.9,221.0 L646.9,224.5 L647.0,224.3 L651.1,216.5 L651.3,217.1 L655.5,229.0 L660.5,219.8 L663.3,223.5 L664.8,229.2 L665.5,231.9 L672.6,232.4 L674.7,232.6 L676.8,240.3 L677.0,241.0 L677.0,241.8 L676.8,241.8 L674.7,240.4 L672.6,239.0 L665.5,237.7 L664.8,237.6 L663.3,234.6 L660.5,229.1 L655.5,235.4 L651.3,224.8 L651.1,225.1 L647.0,231.9 L646.9,231.8 L641.9,228.8 L641.3,228.4 L637.5,236.6 L636.4,239.0 L633.3,241.6 L628.3,239.4 L625.0,241.1 L621.7,237.8 L617.5,241.9 L616.7,241.7 L614.2,241.1 L613.3,239.8 L610.8,236.1 L608.3,239.4 L607.5,238.4 L605.0,235.3 L604.2,233.7 L602.0,229.2 L601.7,228.6 L599.2,218.2 L597.5,223.8 L596.0,228.7 L595.0,231.9 L591.7,236.1 L589.2,231.9 L585.8,232.8 L585.0,234.8 L582.5,241.1 L578.3,239.4 L574.2,241.9 L568.3,241.9 L562.5,238.6 L558.3,241.6 L558.0,241.6 L554.2,241.1 L550.8,238.6 L546.7,236.9 L546.3,237.8 L544.5,242.1 L544.2,242.8 L541.7,236.9 L537.5,241.9 L535.0,235.3 L532.5,236.5 L531.7,236.9 L528.3,236.1 L525.5,235.4 L525.0,235.3 L522.5,236.5 L518.3,238.6 L516.7,239.4 L516.0,238.6 L515.0,237.5 L513.6,235.7 L513.3,235.3 L513.0,230.6 L512.6,224.3 L511.9,213.2 L511.8,211.2 L511.7,210.5 L511.4,205.6 L511.2,203.5 L511.1,202.1 L510.6,195.7 L510.6,195.0 L510.0,189.3 L509.5,184.5 L509.3,183.7 L509.2,184.6 L508.5,198.6 L508.3,202.3 L507.9,208.0 L507.7,212.0 L507.6,213.7 L507.0,221.6 L506.9,223.6 L506.7,225.6 L506.2,231.8 L505.0,233.8 L504.8,234.1 L503.3,236.7 L502.8,237.1 L501.0,233.0 L500.9,232.6 L500.0,229.5 L499.0,223.2 L498.8,222.0 L498.6,220.8 L498.5,220.3 L498.2,218.5 L497.5,214.5 L497.0,214.3 L496.5,214.1 L495.0,213.5 L493.8,213.3 L493.5,213.2 L493.3,213.2 L492.3,213.0 L491.7,197.5 L491.6,197.3 L491.0,196.0 L490.6,196.5 L489.2,198.2 L488.7,197.6 L488.3,197.1 L488.0,196.8 L487.1,195.7 L487.0,195.9 L485.0,199.0 L484.5,199.8 L484.2,200.3 L483.5,197.0 L483.3,196.1 L482.6,192.8 L482.2,190.9 L480.4,182.5 L480.3,183.0 L480.0,184.4 L478.2,193.2 L477.4,197.1 L476.6,201.0 L476.0,207.0 L475.8,209.0 L475.3,214.0 L474.8,219.6 L474.4,224.0 L474.2,225.1 L473.6,228.4 L473.5,229.0 L473.0,229.8 L472.0,231.2 L471.3,232.1 L470.0,233.6 L469.2,234.4 L465.0,238.6 L461.7,239.7 L460.0,240.3 L459.5,239.3 L458.3,236.9 L456.7,238.1 L455.0,239.4 L454.0,237.1 L453.3,235.5 L452.3,233.2 L451.7,231.8 L451.5,231.0 L450.0,225.2 L448.7,220.2 L448.3,218.7 L448.0,217.2 L447.9,216.8 L447.0,212.4 L445.0,202.7 L444.8,199.7 L444.2,193.3 L443.7,200.6 L442.6,216.6 L441.7,229.7 L441.4,231.1 L441.0,233.0 L440.0,237.6 L439.6,239.4 L439.2,241.1 L439.0,241.1 L433.3,241.1 L428.3,241.1 L422.5,241.1 L418.8,241.1 L415.8,241.1 L413.3,241.1 L412.5,240.9 L405.8,239.4 L405.0,239.8 L400.8,241.6 L398.3,240.4 L395.8,239.3 L395.0,238.9 L393.3,239.5 L390.0,240.6 L385.0,242.3 L384.2,242.0 L380.0,240.5 L378.3,239.9 L377.7,240.1 L375.8,240.8 L373.3,241.6 L368.3,237.8 L366.7,235.9 L364.7,233.6 L363.8,235.8 L361.7,241.1 L359.5,236.2 L358.3,233.6 L356.7,229.9 L355.8,227.8 L355.0,227.9 L350.0,228.3 L347.5,227.2 L345.8,226.5 L345.0,226.1 L340.8,226.9 L339.2,231.8 L339.0,232.4 L336.7,239.4 L330.8,241.9 L327.5,241.9 L325.0,241.9 L322.5,230.3 L318.3,232.8 L314.5,229.4 L314.2,230.1 L310.3,239.4 L306.7,234.2 L306.3,233.6 L303.3,236.9 L300.0,232.8 L296.7,241.1 L290.0,240.3 L288.0,226.1 L287.5,222.6 L286.7,216.9 L285.0,210.5 L282.5,201.1 L282.0,203.1 L281.7,204.3 L279.2,214.4 L276.7,210.1 L276.2,209.3 L275.8,208.6 L272.5,219.4 L268.3,210.3 L268.0,211.8 L267.5,214.4 L265.5,224.5 L263.7,233.6 L263.3,232.7 L262.5,230.9 L261.0,227.5 L260.0,225.3 L259.2,223.7 L258.3,221.9 L256.7,218.3 L255.0,214.4 L254.5,216.6 L252.5,225.3 L252.0,224.6 L250.0,221.9 L245.8,229.4 L242.5,221.9 L236.7,236.1 L230.8,228.6 L226.8,239.4 L224.3,229.9 L221.8,233.6 L220.5,232.8 L220.0,232.5 L219.9,232.4 L219.5,227.3 L219.0,220.9 L218.0,208.2 L217.5,203.2 L216.8,196.1 L215.6,184.0 L215.5,183.0 L213.8,199.5 L212.9,208.2 L212.5,212.5 L212.0,217.9 L211.0,228.6 L210.3,229.3 L207.2,232.4 L204.0,230.6 L201.5,229.2 L199.5,234.3 L197.0,240.6 L194.5,235.5 L191.3,228.9 L188.4,222.9 L186.2,233.0 L183.0,239.4 L179.9,233.8 L176.7,228.0 L172.3,236.2 L171.0,227.8 L169.7,219.5 L169.0,215.0 L167.7,206.6 L167.5,208.2 L166.6,215.5 L164.0,236.6 L162.1,218.8 L160.7,205.6 L160.5,207.1 L158.3,223.7 L156.4,238.1 L156.1,236.8 L153.9,223.7 L151.9,212.1 L151.7,214.1 L150.7,224.3 L150.0,231.4 L149.4,237.5 L148.8,236.3 L148.0,234.6 L147.5,233.6 L146.0,225.2 L145.0,219.5 L143.0,208.2 L142.5,207.0 L140.8,203.0 L139.8,199.1 L139.2,196.7 L139.0,194.5 L138.3,186.7 L138.0,183.4 L137.5,176.3 L136.9,167.8 L136.7,165.0 L136.0,160.4 L135.6,157.7 L135.4,156.6 L134.5,151.7 L134.2,150.0 L134.1,149.8 L132.6,147.0 L132.5,146.9 L130.8,145.0 L129.6,145.5 L129.0,145.7 L128.6,146.8 L128.3,147.7 L127.5,150.0 L127.4,150.6 L126.3,157.3 L126.0,161.4 L125.8,164.1 L125.2,172.4 L124.4,173.1 L124.2,173.3 L123.6,172.4 L122.3,170.5 L122.0,170.0 L120.3,167.5 L119.7,170.2 L117.5,180.0 L117.0,178.7 L115.0,173.3 L112.4,175.5Z" fill="#9370db"/>
<path d="M112.4,143.2 L115.0,136.0 L117.0,143.5 L117.5,141.1 L119.7,130.5 L120.3,132.2 L122.0,136.9 L122.3,137.7 L123.6,137.0 L124.2,133.3 L124.4,132.1 L125.2,127.3 L125.8,123.6 L126.0,122.4 L126.3,120.2 L127.4,112.0 L127.5,111.6 L128.3,108.6 L128.6,107.5 L129.0,107.4 L129.6,107.3 L130.8,107.8 L132.5,108.5 L132.6,108.6 L134.1,110.0 L134.2,110.3 L134.5,111.3 L135.4,114.3 L135.6,117.2 L136.0,123.0 L136.7,133.1 L136.9,136.0 L137.5,142.4 L138.0,147.8 L138.3,151.0 L139.0,160.3 L139.2,163.0 L139.8,171.0 L140.8,168.5 L142.5,164.3 L143.0,173.4 L145.0,209.7 L146.0,214.9 L147.5,222.7 L148.0,225.3 L148.8,229.4 L149.4,223.2 L150.0,217.0 L150.7,209.7 L151.7,181.8 L151.9,184.3 L153.9,209.7 L156.1,233.8 L156.4,230.5 L158.3,209.7 L160.5,168.2 L160.7,173.4 L162.1,209.7 L164.0,232.5 L166.6,203.3 L167.5,176.0 L167.7,179.1 L169.0,199.0 L169.7,209.7 L171.0,218.6 L172.3,227.5 L176.7,218.0 L179.9,226.2 L183.0,234.4 L186.2,231.3 L188.4,209.7 L191.3,221.7 L194.5,228.7 L197.0,237.6 L199.5,224.3 L201.5,221.1 L204.0,225.5 L207.2,226.8 L210.3,223.6 L211.0,217.9 L212.0,209.7 L212.5,198.0 L212.9,187.5 L213.8,164.0 L215.5,141.6 L215.6,140.3 L216.8,164.0 L217.5,198.0 L218.0,204.0 L219.0,216.0 L219.5,219.4 L219.9,222.1 L220.0,222.8 L220.5,226.2 L221.8,224.2 L224.3,220.5 L226.8,233.8 L230.8,220.2 L236.7,230.2 L242.5,210.2 L245.8,217.7 L250.0,206.8 L252.0,211.0 L252.5,206.8 L254.5,190.2 L255.0,192.5 L256.7,200.2 L258.3,197.5 L259.2,196.0 L260.0,197.4 L261.0,199.2 L262.5,201.8 L263.3,199.3 L263.7,198.0 L265.5,192.3 L267.5,186.0 L268.0,175.7 L268.3,176.6 L272.5,189.3 L275.8,185.1 L276.2,184.6 L276.7,184.0 L279.2,191.0 L281.7,178.5 L282.0,179.6 L282.5,181.5 L285.0,191.0 L286.7,201.2 L287.5,206.0 L288.0,211.8 L290.0,235.2 L296.7,235.2 L300.0,226.0 L303.3,231.0 L306.3,219.3 L306.7,217.7 L310.3,227.7 L314.2,216.8 L314.5,217.5 L318.3,226.0 L322.5,219.3 L325.0,239.3 L327.5,237.7 L330.8,240.2 L336.7,234.3 L339.0,223.6 L339.2,222.7 L340.8,210.2 L345.0,207.3 L345.8,206.8 L347.5,214.3 L350.0,213.2 L355.0,211.0 L355.8,209.0 L356.7,206.8 L358.3,205.9 L359.5,205.2 L361.7,216.0 L363.8,211.8 L364.7,216.5 L366.7,226.8 L368.3,227.6 L373.3,230.2 L375.8,226.0 L377.7,214.0 L378.3,217.6 L380.0,227.7 L384.2,235.2 L385.0,234.6 L390.0,231.0 L393.3,226.0 L395.0,220.4 L395.8,217.7 L398.3,226.0 L400.8,232.7 L405.0,224.3 L405.8,224.5 L412.5,226.0 L413.3,227.0 L415.8,230.2 L418.8,229.7 L422.5,236.0 L428.3,236.8 L433.3,236.0 L439.0,236.7 L439.2,236.7 L439.6,236.8 L440.0,232.8 L441.0,223.0 L441.4,219.0 L441.7,210.5 L442.6,185.0 L443.7,129.8 L444.2,135.6 L444.8,141.9 L445.0,143.8 L447.0,158.8 L447.9,168.0 L448.0,170.1 L448.3,176.5 L448.7,185.0 L450.0,210.0 L451.5,222.9 L451.7,224.6 L452.3,229.8 L453.3,230.6 L454.0,231.2 L455.0,232.1 L456.7,233.5 L458.3,225.4 L459.5,219.3 L460.0,221.2 L461.7,227.7 L465.0,225.2 L469.2,209.3 L470.0,208.0 L471.3,206.0 L472.0,206.2 L473.0,206.6 L473.5,206.8 L473.6,206.8 L474.2,195.9 L474.4,192.3 L474.8,185.0 L475.3,168.0 L475.8,151.0 L476.0,144.2 L476.6,123.8 L477.4,111.4 L478.2,99.0 L480.0,97.8 L480.3,97.6 L480.4,99.0 L482.2,123.8 L482.6,134.7 L483.3,138.9 L483.5,140.1 L484.2,144.2 L484.5,146.0 L485.0,149.0 L487.0,130.7 L487.1,131.4 L488.0,137.3 L488.3,139.3 L488.7,142.0 L489.2,138.6 L490.6,129.0 L491.0,124.6 L491.6,118.0 L491.7,121.1 L492.3,139.7 L493.3,157.4 L493.5,161.0 L493.8,166.3 L495.0,167.1 L496.5,168.2 L497.0,170.6 L497.5,173.0 L498.2,176.3 L498.5,179.6 L498.6,180.7 L498.8,182.8 L499.0,185.0 L500.0,202.4 L500.9,218.0 L501.0,218.7 L502.8,231.1 L503.3,230.3 L504.8,228.0 L505.0,226.6 L506.2,218.0 L506.7,191.8 L506.9,184.0 L507.0,178.0 L507.6,154.0 L507.7,150.0 L507.9,129.0 L508.3,119.8 L508.5,114.6 L509.2,95.0 L509.3,91.5 L509.5,77.3 L510.0,41.8 L510.6,90.9 L510.6,95.0 L511.1,129.0 L511.2,137.4 L511.4,150.0 L511.7,179.7 L511.8,184.0 L511.9,189.3 L512.6,214.0 L513.0,220.8 L513.3,225.9 L513.6,231.0 L515.0,235.0 L516.0,235.3 L516.7,235.5 L518.3,236.0 L522.5,228.5 L525.0,222.9 L525.5,221.8 L528.3,231.0 L531.7,229.0 L532.5,228.5 L535.0,231.0 L537.5,240.2 L541.7,226.0 L544.2,241.0 L544.5,239.5 L546.3,230.2 L546.7,230.1 L550.8,229.3 L554.2,236.0 L558.0,238.3 L558.3,238.5 L562.5,234.3 L568.3,239.3 L574.2,240.2 L578.3,235.7 L582.5,238.5 L585.0,226.8 L585.8,226.5 L589.2,225.2 L591.7,231.8 L595.0,223.5 L596.0,217.2 L597.5,207.7 L599.2,199.3 L601.7,207.7 L602.0,209.7 L604.2,224.3 L605.0,225.9 L607.5,231.0 L608.3,229.8 L610.8,226.0 L613.3,229.3 L614.2,231.5 L616.7,237.7 L617.5,235.3 L621.7,222.7 L625.0,235.2 L628.3,224.3 L633.3,236.0 L636.4,228.6 L637.5,226.0 L641.3,219.6 L641.9,218.6 L646.9,222.5 L647.0,222.3 L651.1,213.2 L651.3,213.7 L655.5,224.4 L660.5,217.3 L663.3,219.4 L664.8,224.2 L665.5,226.5 L672.6,226.5 L674.7,226.5 L676.8,237.5 L677.0,238.5 L677.0,241.0 L676.8,240.3 L674.7,232.6 L672.6,232.4 L665.5,231.9 L664.8,229.2 L663.3,223.5 L660.5,219.8 L655.5,229.0 L651.3,217.1 L651.1,216.5 L647.0,224.3 L646.9,224.5 L641.9,221.0 L641.3,222.2 L637.5,230.0 L636.4,232.4 L633.3,239.2 L628.3,235.8 L625.0,238.2 L621.7,234.7 L617.5,238.7 L616.7,239.5 L614.2,236.9 L613.3,236.0 L610.8,233.3 L608.3,234.2 L607.5,234.5 L605.0,228.3 L604.2,226.3 L602.0,211.4 L601.7,209.4 L599.2,201.0 L597.5,209.4 L596.0,218.9 L595.0,225.2 L591.7,233.5 L589.2,226.9 L585.8,228.2 L585.0,228.5 L582.5,240.2 L578.3,237.4 L574.2,241.9 L568.3,241.0 L562.5,236.0 L558.3,240.2 L558.0,240.0 L554.2,237.5 L550.8,232.8 L546.7,233.6 L546.3,233.7 L544.5,241.2 L544.2,242.7 L541.7,227.7 L537.5,241.9 L535.0,235.0 L532.5,234.2 L531.7,234.4 L528.3,235.0 L525.5,228.8 L525.0,229.8 L522.5,235.0 L518.3,237.5 L516.7,237.2 L516.0,237.0 L515.0,237.5 L513.6,233.5 L513.3,228.4 L513.0,223.3 L512.6,217.3 L511.9,193.9 L511.8,188.9 L511.7,184.8 L511.4,155.7 L511.2,143.4 L511.1,135.0 L510.6,101.0 L510.6,96.9 L510.0,47.8 L509.5,83.3 L509.3,97.5 L509.2,101.0 L508.5,120.6 L508.3,125.3 L507.9,133.5 L507.7,153.9 L507.6,157.6 L507.0,180.0 L506.9,186.1 L506.7,194.0 L506.2,220.4 L505.0,229.6 L504.8,231.2 L503.3,234.9 L502.8,236.1 L501.0,223.7 L500.9,223.0 L500.0,207.4 L499.0,190.7 L498.8,188.7 L498.6,186.7 L498.5,185.6 L498.2,182.5 L497.5,179.5 L497.0,177.3 L496.5,175.2 L495.0,174.4 L493.8,173.8 L493.5,168.5 L493.3,165.0 L492.3,147.5 L491.7,129.0 L491.6,125.9 L491.0,132.6 L490.6,137.0 L489.2,146.6 L488.7,150.0 L488.3,147.3 L488.0,145.3 L487.1,139.4 L487.0,138.7 L485.0,157.0 L484.5,154.0 L484.2,152.2 L483.5,148.1 L483.3,147.5 L482.6,145.5 L482.2,135.8 L480.4,119.5 L480.3,118.6 L480.0,118.7 L478.2,119.0 L477.4,127.4 L476.6,135.8 L476.0,154.5 L475.8,160.8 L475.3,176.4 L474.8,192.0 L474.4,198.2 L474.2,201.2 L473.6,210.5 L473.5,210.2 L473.0,208.6 L472.0,208.1 L471.3,207.7 L470.0,211.2 L469.2,213.3 L465.0,233.2 L461.7,232.7 L460.0,231.6 L459.5,231.3 L458.3,233.6 L456.7,236.7 L455.0,234.9 L454.0,233.9 L453.3,233.1 L452.3,232.3 L451.7,227.1 L451.5,225.4 L450.0,214.0 L448.7,189.7 L448.3,181.4 L448.0,175.1 L447.9,173.0 L447.0,163.8 L445.0,148.8 L444.8,146.9 L444.2,140.6 L443.7,134.8 L442.6,189.2 L441.7,214.0 L441.4,222.3 L441.0,226.0 L440.0,235.2 L439.6,238.9 L439.2,238.6 L439.0,238.4 L433.3,237.7 L428.3,238.5 L422.5,237.7 L418.8,236.7 L415.8,236.2 L413.3,236.8 L412.5,235.7 L405.8,233.5 L405.0,232.5 L400.8,236.7 L398.3,235.0 L395.8,230.5 L395.0,234.4 L393.3,236.8 L390.0,235.5 L385.0,237.6 L384.2,238.7 L380.0,233.7 L378.3,233.2 L377.7,233.0 L375.8,239.2 L373.3,235.8 L368.3,231.6 L366.7,230.3 L364.7,231.5 L363.8,228.0 L361.7,235.0 L359.5,226.2 L358.3,222.9 L356.7,219.3 L355.8,219.0 L355.0,220.5 L350.0,219.7 L347.5,218.3 L345.8,214.9 L345.0,217.3 L340.8,217.5 L339.2,225.0 L339.0,225.3 L336.7,236.0 L330.8,241.9 L327.5,239.4 L325.0,241.0 L322.5,224.3 L318.3,228.0 L314.5,221.3 L314.2,220.8 L310.3,230.7 L306.7,223.3 L306.3,224.6 L303.3,234.6 L300.0,227.7 L296.7,236.9 L290.0,236.9 L288.0,213.5 L287.5,207.8 L286.7,203.2 L285.0,198.0 L282.5,189.4 L282.0,187.6 L281.7,186.8 L279.2,201.7 L276.7,194.9 L276.2,195.6 L275.8,196.5 L272.5,203.3 L268.3,197.1 L268.0,196.7 L267.5,206.0 L265.5,208.3 L263.7,220.1 L263.3,222.8 L262.5,222.7 L261.0,215.2 L260.0,210.5 L259.2,206.7 L258.3,206.5 L256.7,206.2 L255.0,203.9 L254.5,203.2 L252.5,211.0 L252.0,213.0 L250.0,208.5 L245.8,219.4 L242.5,211.9 L236.7,231.9 L230.8,221.9 L226.8,235.5 L224.3,222.2 L221.8,225.9 L220.5,227.9 L220.0,224.5 L219.9,223.8 L219.5,221.1 L219.0,218.5 L218.0,208.0 L217.5,202.0 L216.8,168.0 L215.6,144.3 L215.5,145.6 L213.8,168.0 L212.9,191.5 L212.5,202.0 L212.0,212.9 L211.0,219.6 L210.3,225.3 L207.2,228.5 L204.0,227.2 L201.5,222.8 L199.5,226.0 L197.0,239.3 L194.5,230.4 L191.3,223.4 L188.4,211.4 L186.2,233.0 L183.0,236.1 L179.9,227.9 L176.7,219.7 L172.3,229.2 L171.0,220.3 L169.7,212.2 L169.0,202.0 L167.7,182.1 L167.5,179.0 L166.6,206.3 L164.0,235.5 L162.1,212.7 L160.7,176.4 L160.5,171.2 L158.3,212.7 L156.4,233.5 L156.1,236.8 L153.9,212.7 L151.9,187.3 L151.7,184.8 L150.7,212.7 L150.0,220.0 L149.4,225.8 L148.8,231.6 L148.0,227.0 L147.5,224.4 L146.0,216.6 L145.0,211.4 L143.0,175.1 L142.5,166.0 L140.8,170.2 L139.8,172.7 L139.2,164.7 L139.0,162.0 L138.3,152.7 L138.0,149.6 L137.5,144.2 L136.9,138.5 L136.7,135.8 L136.0,126.5 L135.6,121.4 L135.4,118.8 L134.5,117.3 L134.2,116.5 L134.1,116.2 L132.6,115.5 L132.5,115.5 L130.8,115.4 L129.6,115.3 L129.0,115.7 L128.6,115.9 L128.3,117.1 L127.5,120.6 L127.4,121.0 L126.3,129.9 L126.0,132.3 L125.8,133.6 L125.2,137.7 L124.4,143.1 L124.2,144.1 L123.6,147.2 L122.3,146.5 L122.0,145.4 L120.3,141.4 L119.7,140.0 L117.5,150.6 L117.0,153.0 L115.0,145.0 L112.4,150.5Z" fill="#000"/>
<path d="M112.4,143.2 L115.0,136.0 L117.0,143.5 L117.5,141.1 L119.7,130.5 L120.3,132.2 L122.0,136.9 L122.3,137.7 L123.6,137.0 L124.2,133.3 L124.4,132.1 L125.2,127.3 L125.8,123.6 L126.0,122.4 L126.3,120.2 L127.4,112.0 L127.5,111.6 L128.3,108.6 L128.6,107.5 L129.0,107.4 L129.6,107.3 L130.8,107.8 L132.5,108.5 L132.6,108.6 L134.1,110.0 L134.2,110.3 L134.5,111.3 L135.4,114.3 L135.6,117.2 L136.0,123.0 L136.7,133.1 L136.9,136.0 L137.5,142.4 L138.0,147.8 L138.3,151.0 L139.0,160.3 L139.2,163.0 L139.8,171.0 L140.8,168.5 L142.5,164.3 L143.0,173.4 L145.0,209.7 L146.0,214.9 L147.5,222.7 L148.0,225.3 L148.8,229.4 L149.4,223.2 L150.0,217.0 L150.7,209.7 L151.7,181.8 L151.9,184.3 L153.9,209.7 L156.1,233.8 L156.4,230.5 L158.3,209.7 L160.5,168.2 L160.7,173.4 L162.1,209.7 L164.0,232.5 L166.6,203.3 L167.5,176.0 L167.7,179.1 L169.0,199.0 L169.7,209.7 L171.0,218.6 L172.3,227.5 L176.7,218.0 L179.9,226.2 L183.0,234.4 L186.2,231.3 L188.4,209.7 L191.3,221.7 L194.5,228.7 L197.0,237.6 L199.5,224.3 L201.5,221.1 L204.0,225.5 L207.2,226.8 L210.3,223.6 L211.0,217.9 L212.0,209.7 L212.5,198.0 L212.9,187.5 L213.8,164.0 L215.5,141.6 L215.6,140.3 L216.8,164.0 L217.5,198.0 L218.0,204.0 L219.0,216.0 L219.5,219.4 L219.9,222.1 L220.0,222.8 L220.5,226.2 L221.8,224.2 L224.3,220.5 L226.8,233.8 L230.8,220.2 L236.7,230.2 L242.5,210.2 L245.8,217.7 L250.0,206.8 L252.0,211.0 L252.5,206.8 L254.5,190.2 L255.0,192.5 L256.7,200.2 L258.3,197.5 L259.2,196.0 L260.0,197.4 L261.0,199.2 L262.5,201.8 L263.3,199.3 L263.7,198.0 L265.5,192.3 L267.5,186.0 L268.0,175.7 L268.3,176.6 L272.5,189.3 L275.8,185.1 L276.2,184.6 L276.7,184.0 L279.2,191.0 L281.7,178.5 L282.0,179.6 L282.5,181.5 L285.0,191.0 L286.7,201.2 L287.5,206.0 L288.0,211.8 L290.0,235.2 L296.7,235.2 L300.0,226.0 L303.3,231.0 L306.3,219.3 L306.7,217.7 L310.3,227.7 L314.2,216.8 L314.5,217.5 L318.3,226.0 L322.5,219.3 L325.0,239.3 L327.5,237.7 L330.8,240.2 L336.7,234.3 L339.0,223.6 L339.2,222.7 L340.8,210.2 L345.0,207.3 L345.8,206.8 L347.5,214.3 L350.0,213.2 L355.0,211.0 L355.8,209.0 L356.7,206.8 L358.3,205.9 L359.5,205.2 L361.7,216.0 L363.8,211.8 L364.7,216.5 L366.7,226.8 L368.3,227.6 L373.3,230.2 L375.8,226.0 L377.7,214.0 L378.3,217.6 L380.0,227.7 L384.2,235.2 L385.0,234.6 L390.0,231.0 L393.3,226.0 L395.0,220.4 L395.8,217.7 L398.3,226.0 L400.8,232.7 L405.0,224.3 L405.8,224.5 L412.5,226.0 L413.3,227.0 L415.8,230.2 L418.8,229.7 L422.5,236.0 L428.3,236.8 L433.3,236.0 L439.0,236.7 L439.2,236.7 L439.6,236.8 L440.0,232.8 L441.0,223.0 L441.4,219.0 L441.7,210.5 L442.6,185.0 L443.7,129.8 L444.2,135.6 L444.8,141.9 L445.0,143.8 L447.0,158.8 L447.9,168.0 L448.0,170.1 L448.3,176.5 L448.7,185.0 L450.0,210.0 L451.5,222.9 L451.7,224.6 L452.3,229.8 L453.3,230.6 L454.0,231.2 L455.0,232.1 L456.7,233.5 L458.3,225.4 L459.5,219.3 L460.0,221.2 L461.7,227.7 L465.0,225.2 L469.2,209.3 L470.0,208.0 L471.3,206.0 L472.0,206.2 L473.0,206.6 L473.5,206.8 L473.6,206.8 L474.2,195.9 L474.4,192.3 L474.8,185.0 L475.3,168.0 L475.8,151.0 L476.0,144.2 L476.6,123.8 L477.4,111.4 L478.2,99.0 L480.0,97.8 L480.3,97.6 L480.4,99.0 L482.2,123.8 L482.6,134.7 L483.3,138.9 L483.5,140.1 L484.2,144.2 L484.5,146.0 L485.0,149.0 L487.0,130.7 L487.1,131.4 L488.0,137.3 L488.3,139.3 L488.7,142.0 L489.2,138.6 L490.6,129.0 L491.0,124.6 L491.6,118.0 L491.7,121.1 L492.3,139.7 L493.3,157.4 L493.5,161.0 L493.8,166.3 L495.0,167.1 L496.5,168.2 L497.0,170.6 L497.5,173.0 L498.2,176.3 L498.5,179.6 L498.6,180.7 L498.8,182.8 L499.0,185.0 L500.0,202.4 L500.9,218.0 L501.0,218.7 L502.8,231.1 L503.3,230.3 L504.8,228.0 L505.0,226.6 L506.2,218.0 L506.7,191.8 L506.9,184.0 L507.0,178.0 L507.6,154.0 L507.7,150.0 L507.9,129.0 L508.3,119.8 L508.5,114.6 L509.2,95.0 L509.3,91.5 L509.5,77.3 L510.0,41.8 L510.6,90.9 L510.6,95.0 L511.1,129.0 L511.2,137.4 L511.4,150.0 L511.7,179.7 L511.8,184.0 L511.9,189.3 L512.6,214.0 L513.0,220.8 L513.3,225.9 L513.6,231.0 L515.0,235.0 L516.0,235.3 L516.7,235.5 L518.3,236.0 L522.5,228.5 L525.0,222.9 L525.5,221.8 L528.3,231.0 L531.7,229.0 L532.5,228.5 L535.0,231.0 L537.5,240.2 L541.7,226.0 L544.2,241.0 L544.5,239.5 L546.3,230.2 L546.7,230.1 L550.8,229.3 L554.2,236.0 L558.0,238.3 L558.3,238.5 L562.5,234.3 L568.3,239.3 L574.2,240.2 L578.3,235.7 L582.5,238.5 L585.0,226.8 L585.8,226.5 L589.2,225.2 L591.7,231.8 L595.0,223.5 L596.0,217.2 L597.5,207.7 L599.2,199.3 L601.7,207.7 L602.0,209.7 L604.2,224.3 L605.0,225.9 L607.5,231.0 L608.3,229.8 L610.8,226.0 L613.3,229.3 L614.2,231.5 L616.7,237.7 L617.5,235.3 L621.7,222.7 L625.0,235.2 L628.3,224.3 L633.3,236.0 L636.4,228.6 L637.5,226.0 L641.3,219.6 L641.9,218.6 L646.9,222.5 L647.0,222.3 L651.1,213.2 L651.3,213.7 L655.5,224.4 L660.5,217.3 L663.3,219.4 L664.8,224.2 L665.5,226.5 L672.6,226.5 L674.7,226.5 L676.8,237.5 L677.0,238.5" fill="none" stroke="#000" stroke-width="2.1" stroke-linejoin="round" stroke-linecap="square"/>
</g>
<rect x="84.50" y="30.50" width="620.00" height="225.00" fill="none" stroke="#000" stroke-width="1.1"/>
<line x1="79.64" x2="84.50" y1="245.50" y2="245.50" stroke="#000" stroke-width="1.1"/><text x="75.60" y="251.10" text-anchor="end" font-size="13.89">0</text><line x1="79.64" x2="84.50" y1="216.50" y2="216.50" stroke="#000" stroke-width="1.1"/><text x="74.50" y="221.70" text-anchor="end" font-size="13.89">50</text><line x1="79.64" x2="84.50" y1="187.50" y2="187.50" stroke="#000" stroke-width="1.1"/><text x="74.50" y="192.70" text-anchor="end" font-size="13.89">100</text><line x1="79.64" x2="84.50" y1="158.50" y2="158.50" stroke="#000" stroke-width="1.1"/><text x="74.50" y="163.70" text-anchor="end" font-size="13.89">150</text><line x1="79.64" x2="84.50" y1="128.50" y2="128.50" stroke="#000" stroke-width="1.1"/><text x="74.50" y="133.70" text-anchor="end" font-size="13.89">200</text><line x1="79.64" x2="84.50" y1="99.50" y2="99.50" stroke="#000" stroke-width="1.1"/><text x="74.50" y="104.70" text-anchor="end" font-size="13.89">250</text><line x1="79.64" x2="84.50" y1="70.50" y2="70.50" stroke="#000" stroke-width="1.1"/><text x="74.50" y="75.70" text-anchor="end" font-size="13.89">300</text><line x1="79.64" x2="84.50" y1="41.50" y2="41.50" stroke="#000" stroke-width="1.1"/><text x="74.50" y="46.70" text-anchor="end" font-size="13.89">350</text>
<line x1="94.50" x2="94.50" y1="255.50" y2="260.36" stroke="#000" stroke-width="1.1"/><text transform="translate(91.60,276.30) rotate(-30)" text-anchor="end" font-size="13.89">30-Sep-2017</text><line x1="149.50" x2="149.50" y1="255.50" y2="260.36" stroke="#000" stroke-width="1.1"/><text transform="translate(146.60,276.30) rotate(-30)" text-anchor="end" font-size="13.89">03-Oct-2017</text><line x1="204.50" x2="204.50" y1="255.50" y2="260.36" stroke="#000" stroke-width="1.1"/><text transform="translate(201.60,276.30) rotate(-30)" text-anchor="end" font-size="13.89">06-Oct-2017</text><line x1="258.50" x2="258.50" y1="255.50" y2="260.36" stroke="#000" stroke-width="1.1"/><text transform="translate(255.60,276.30) rotate(-30)" text-anchor="end" font-size="13.89">09-Oct-2017</text><line x1="313.50" x2="313.50" y1="255.50" y2="260.36" stroke="#000" stroke-width="1.1"/><text transform="translate(310.60,276.30) rotate(-30)" text-anchor="end" font-size="13.89">12-Oct-2017</text><line x1="368.50" x2="368.50" y1="255.50" y2="260.36" stroke="#000" stroke-width="1.1"/><text transform="translate(365.60,276.30) rotate(-30)" text-anchor="end" font-size="13.89">15-Oct-2017</text><line x1="423.50" x2="423.50" y1="255.50" y2="260.36" stroke="#000" stroke-width="1.1"/><text transform="translate(420.60,276.30) rotate(-30)" text-anchor="end" font-size="13.89">18-Oct-2017</text><line x1="478.50" x2="478.50" y1="255.50" y2="260.36" stroke="#000" stroke-width="1.1"/><text transform="translate(475.60,276.30) rotate(-30)" text-anchor="end" font-size="13.89">21-Oct-2017</text><line x1="532.50" x2="532.50" y1="255.50" y2="260.36" stroke="#000" stroke-width="1.1"/><text transform="translate(529.60,276.30) rotate(-30)" text-anchor="end" font-size="13.89">24-Oct-2017</text><line x1="587.50" x2="587.50" y1="255.50" y2="260.36" stroke="#000" stroke-width="1.1"/><text transform="translate(584.60,276.30) rotate(-30)" text-anchor="end" font-size="13.89">27-Oct-2017</text><line x1="642.50" x2="642.50" y1="255.50" y2="260.36" stroke="#000" stroke-width="1.1"/><text transform="translate(639.60,276.30) rotate(-30)" text-anchor="end" font-size="13.89">30-Oct-2017</text><line x1="697.50" x2="697.50" y1="255.50" y2="260.36" stroke="#000" stroke-width="1.1"/><text transform="translate(694.60,276.30) rotate(-30)" text-anchor="end" font-size="13.89">02-Nov-2017</text>
<rect x="84.50" y="345.50" width="77.80" height="46.60" fill="#c62a38"/><rect x="162.00" y="345.50" width="77.80" height="46.60" fill="#377eb8"/><rect x="239.50" y="345.50" width="77.80" height="46.60" fill="#6b8272"/><rect x="317.00" y="345.50" width="77.80" height="46.60" fill="#cd6155"/><rect x="394.50" y="345.50" width="77.80" height="46.60" fill="#e8d22e"/><rect x="472.00" y="345.50" width="77.80" height="46.60" fill="#f781bf"/><rect x="549.50" y="345.50" width="77.80" height="46.60" fill="#9370db"/><rect x="627.00" y="345.50" width="77.80" height="46.60" fill="#000000"/><line x1="84.50" x2="84.50" y1="392.10" y2="397.50" stroke="#000" stroke-width="1.1"/><text x="123.25" y="371.90" text-anchor="middle" font-size="13.89" fill="#000">DOM</text><line x1="162.50" x2="162.50" y1="392.10" y2="397.50" stroke="#000" stroke-width="1.1"/><text x="200.75" y="371.90" text-anchor="middle" font-size="13.89" fill="#000">ENE</text><line x1="239.50" x2="239.50" y1="392.10" y2="397.50" stroke="#000" stroke-width="1.1"/><text x="278.25" y="371.90" text-anchor="middle" font-size="13.89" fill="#000">FLR</text><line x1="317.50" x2="317.50" y1="392.10" y2="397.50" stroke="#000" stroke-width="1.1"/><text x="355.75" y="371.90" text-anchor="middle" font-size="13.89" fill="#000">IND</text><line x1="394.50" x2="394.50" y1="392.10" y2="397.50" stroke="#000" stroke-width="1.1"/><text x="433.25" y="371.90" text-anchor="middle" font-size="13.89" fill="#000">SHP</text><line x1="472.50" x2="472.50" y1="392.10" y2="397.50" stroke="#000" stroke-width="1.1"/><text x="510.75" y="371.90" text-anchor="middle" font-size="13.89" fill="#000">WST</text><line x1="549.50" x2="549.50" y1="392.10" y2="397.50" stroke="#000" stroke-width="1.1"/><text x="588.25" y="371.90" text-anchor="middle" font-size="13.89" fill="#000">TRA</text><line x1="627.50" x2="627.50" y1="392.10" y2="397.50" stroke="#000" stroke-width="1.1"/><text x="665.75" y="371.90" text-anchor="middle" font-size="13.89" fill="#fff">BB</text><line x1="704.50" x2="704.50" y1="392.10" y2="397.50" stroke="#000" stroke-width="1.1"/><rect x="84.50" y="345.50" width="620.00" height="46.60" fill="none" stroke="#000" stroke-width="1.1"/>
</svg>
</body></html>
